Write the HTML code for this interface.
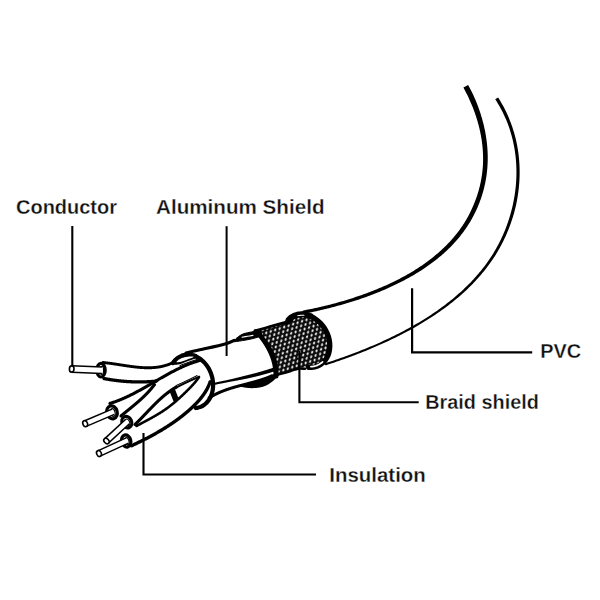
<!DOCTYPE html>
<html><head><meta charset="utf-8"><style>
html,body{margin:0;padding:0;background:#fff;}
svg{display:block;}
</style></head><body>
<svg width="600" height="600" viewBox="0 0 600 600">
<rect width="600" height="600" fill="#fff"/>
<defs><pattern id="braid" patternUnits="userSpaceOnUse" width="4.70" height="8.14" patternTransform="rotate(-18)"><rect width="4.70" height="8.14" fill="#0a0a0a"/><ellipse cx="0" cy="0" rx="0.90" ry="1.55" transform="translate(0.00 0.00) rotate(40)" fill="#f2f2f2"/><ellipse cx="0" cy="0" rx="0.90" ry="1.55" transform="translate(4.70 0.00) rotate(40)" fill="#f2f2f2"/><ellipse cx="0" cy="0" rx="0.90" ry="1.55" transform="translate(0.00 8.14) rotate(40)" fill="#f2f2f2"/><ellipse cx="0" cy="0" rx="0.90" ry="1.55" transform="translate(4.70 8.14) rotate(40)" fill="#f2f2f2"/><ellipse cx="0" cy="0" rx="0.90" ry="1.55" transform="translate(2.35 4.07) rotate(40)" fill="#f2f2f2"/></pattern></defs>
<path d="M 463.41 87.55 L 464.20 89.01 L 464.98 90.46 L 465.74 91.92 L 466.49 93.39 L 467.22 94.87 L 467.94 96.37 L 468.65 97.87 L 469.34 99.38 L 470.02 100.90 L 470.69 102.43 L 471.35 103.97 L 471.99 105.51 L 472.62 107.06 L 473.23 108.62 L 473.83 110.19 L 474.41 111.76 L 474.97 113.35 L 475.52 114.93 L 476.05 116.53 L 476.56 118.13 L 477.05 119.74 L 477.53 121.35 L 477.99 122.97 L 478.43 124.59 L 478.86 126.22 L 479.26 127.85 L 479.65 129.49 L 480.02 131.13 L 480.36 132.77 L 480.69 134.42 L 481.00 136.07 L 481.29 137.72 L 481.56 139.37 L 481.81 141.03 L 482.03 142.69 L 482.23 144.35 L 482.42 146.01 L 482.58 147.67 L 482.71 149.33 L 482.83 150.99 L 482.93 152.66 L 483.00 154.32 L 483.05 155.98 L 483.08 157.64 L 483.09 159.29 L 483.07 160.95 L 483.03 162.60 L 482.97 164.26 L 482.87 165.90 L 482.75 167.55 L 482.61 169.19 L 482.45 170.84 L 482.26 172.47 L 482.05 174.11 L 481.82 175.74 L 481.56 177.36 L 481.29 178.98 L 480.99 180.60 L 480.67 182.21 L 480.32 183.82 L 479.96 185.42 L 479.57 187.01 L 479.16 188.60 L 478.73 190.19 L 478.28 191.76 L 477.81 193.33 L 477.32 194.89 L 476.80 196.45 L 476.27 198.00 L 475.71 199.53 L 475.14 201.07 L 474.54 202.59 L 473.94 204.10 L 473.31 205.61 L 472.66 207.11 L 471.99 208.60 L 471.30 210.08 L 470.59 211.55 L 469.86 213.00 L 469.12 214.45 L 468.35 215.89 L 467.57 217.32 L 466.77 218.73 L 465.95 220.14 L 465.11 221.53 L 464.26 222.91 L 463.38 224.27 L 462.49 225.63 L 461.58 226.98 L 460.66 228.31 L 459.72 229.63 L 458.76 230.93 L 457.78 232.23 L 456.78 233.51 L 455.77 234.77 L 454.74 236.03 L 453.69 237.27 L 452.63 238.50 L 451.55 239.72 L 450.45 240.93 L 449.35 242.13 L 448.22 243.31 L 447.09 244.49 L 445.94 245.65 L 444.77 246.81 L 443.59 247.95 L 442.40 249.08 L 441.20 250.20 L 439.97 251.30 L 438.74 252.40 L 437.49 253.48 L 436.24 254.55 L 434.96 255.62 L 433.68 256.67 L 432.38 257.71 L 431.07 258.73 L 429.75 259.75 L 428.42 260.76 L 427.08 261.75 L 425.72 262.74 L 424.36 263.71 L 422.98 264.68 L 421.60 265.63 L 420.20 266.57 L 418.79 267.51 L 417.38 268.43 L 415.95 269.34 L 414.52 270.24 L 413.08 271.13 L 411.63 272.01 L 410.16 272.88 L 408.69 273.74 L 407.22 274.59 L 405.73 275.42 L 404.24 276.25 L 402.74 277.07 L 401.23 277.87 L 399.71 278.67 L 398.19 279.45 L 396.66 280.23 L 395.13 280.99 L 393.58 281.75 L 392.04 282.49 L 390.48 283.23 L 388.93 283.95 L 387.36 284.67 L 385.80 285.38 L 384.23 286.08 L 382.65 286.76 L 381.07 287.44 L 379.49 288.11 L 377.90 288.77 L 376.31 289.43 L 374.71 290.07 L 373.12 290.70 L 371.52 291.33 L 369.92 291.95 L 368.31 292.55 L 366.71 293.15 L 365.10 293.74 L 363.49 294.32 L 361.88 294.90 L 360.27 295.46 L 358.66 296.02 L 357.04 296.56 L 355.43 297.10 L 353.82 297.64 L 352.21 298.16 L 350.59 298.67 L 348.98 299.18 L 347.37 299.68 L 345.76 300.17 L 344.15 300.65 L 342.55 301.13 L 340.94 301.59 L 339.34 302.05 L 337.74 302.50 L 336.14 302.94 L 334.54 303.38 L 332.95 303.80 L 331.36 304.22 L 329.77 304.63 L 328.19 305.03 L 326.61 305.43 L 325.03 305.82 L 323.46 306.20 L 321.89 306.57 L 320.33 306.94 L 318.78 307.30 L 317.22 307.64 L 315.68 307.98 L 314.13 308.31 L 312.60 308.63 L 311.07 308.95 L 309.55 309.26 L 308.03 309.57 L 306.52 309.86 L 305.02 310.16 L 303.52 310.44 L 304.18 313.78 L 305.68 313.47 L 307.19 313.16 L 308.70 312.84 L 310.22 312.52 L 311.75 312.18 L 313.29 311.85 L 314.83 311.50 L 316.38 311.15 L 317.93 310.79 L 319.49 310.43 L 321.06 310.06 L 322.63 309.69 L 324.21 309.31 L 325.79 308.93 L 327.38 308.54 L 328.97 308.14 L 330.57 307.73 L 332.16 307.32 L 333.77 306.90 L 335.37 306.47 L 336.98 306.03 L 338.59 305.59 L 340.21 305.14 L 341.83 304.68 L 343.45 304.22 L 345.07 303.75 L 346.69 303.27 L 348.32 302.78 L 349.94 302.29 L 351.57 301.78 L 353.20 301.27 L 354.83 300.75 L 356.46 300.22 L 358.09 299.69 L 359.72 299.14 L 361.35 298.59 L 362.98 298.03 L 364.61 297.45 L 366.23 296.88 L 367.86 296.29 L 369.48 295.69 L 371.11 295.08 L 372.73 294.47 L 374.35 293.84 L 375.96 293.21 L 377.58 292.57 L 379.19 291.91 L 380.80 291.25 L 382.40 290.58 L 384.00 289.90 L 385.60 289.21 L 387.19 288.51 L 388.78 287.81 L 390.37 287.09 L 391.95 286.36 L 393.52 285.62 L 395.09 284.87 L 396.66 284.11 L 398.22 283.35 L 399.77 282.57 L 401.32 281.78 L 402.86 280.98 L 404.40 280.18 L 405.93 279.36 L 407.45 278.54 L 408.97 277.70 L 410.48 276.85 L 411.98 275.99 L 413.47 275.13 L 414.96 274.25 L 416.44 273.36 L 417.91 272.47 L 419.37 271.56 L 420.82 270.63 L 422.27 269.70 L 423.70 268.76 L 425.12 267.80 L 426.54 266.84 L 427.94 265.86 L 429.34 264.87 L 430.72 263.87 L 432.09 262.86 L 433.46 261.83 L 434.81 260.80 L 436.14 259.75 L 437.47 258.69 L 438.79 257.62 L 440.09 256.53 L 441.38 255.44 L 442.66 254.33 L 443.92 253.21 L 445.18 252.08 L 446.42 250.93 L 447.64 249.77 L 448.85 248.60 L 450.05 247.42 L 451.23 246.22 L 452.40 245.01 L 453.55 243.79 L 454.69 242.55 L 455.81 241.30 L 456.91 240.04 L 458.00 238.76 L 459.07 237.47 L 460.13 236.17 L 461.17 234.85 L 462.19 233.52 L 463.20 232.18 L 464.19 230.83 L 465.17 229.46 L 466.13 228.08 L 467.07 226.69 L 467.98 225.28 L 468.88 223.86 L 469.77 222.42 L 470.63 220.97 L 471.47 219.51 L 472.30 218.04 L 473.10 216.56 L 473.88 215.06 L 474.65 213.55 L 475.39 212.04 L 476.12 210.51 L 476.82 208.97 L 477.51 207.42 L 478.17 205.86 L 478.82 204.29 L 479.43 202.71 L 480.03 201.12 L 480.61 199.53 L 481.16 197.92 L 481.69 196.31 L 482.20 194.69 L 482.69 193.06 L 483.16 191.42 L 483.61 189.78 L 484.03 188.13 L 484.43 186.47 L 484.81 184.81 L 485.17 183.14 L 485.50 181.47 L 485.82 179.79 L 486.10 178.11 L 486.37 176.42 L 486.61 174.72 L 486.83 173.03 L 487.02 171.33 L 487.19 169.62 L 487.34 167.91 L 487.46 166.20 L 487.56 164.49 L 487.64 162.77 L 487.70 161.05 L 487.73 159.33 L 487.74 157.61 L 487.73 155.89 L 487.69 154.16 L 487.63 152.44 L 487.54 150.71 L 487.43 148.99 L 487.30 147.27 L 487.15 145.54 L 486.98 143.82 L 486.78 142.10 L 486.56 140.38 L 486.33 138.66 L 486.07 136.95 L 485.80 135.23 L 485.50 133.52 L 485.19 131.82 L 484.85 130.11 L 484.50 128.41 L 484.12 126.71 L 483.73 125.02 L 483.31 123.33 L 482.88 121.65 L 482.43 119.97 L 481.96 118.30 L 481.47 116.63 L 480.96 114.97 L 480.44 113.31 L 479.90 111.66 L 479.34 110.02 L 478.76 108.38 L 478.17 106.76 L 477.56 105.13 L 476.93 103.52 L 476.29 101.92 L 475.63 100.32 L 474.96 98.74 L 474.26 97.16 L 473.55 95.60 L 472.82 94.05 L 472.07 92.50 L 471.31 90.97 L 470.54 89.45 L 469.75 87.94 L 468.95 86.44 L 468.14 84.96 Z" fill="#000"/><circle cx="303.85" cy="312.11" r="1.70" fill="#000"/>
<path d="M 495.21 99.21 L 496.26 100.85 L 497.28 102.49 L 498.27 104.14 L 499.23 105.80 L 500.17 107.46 L 501.08 109.14 L 501.96 110.83 L 502.81 112.52 L 503.64 114.22 L 504.44 115.93 L 505.21 117.65 L 505.96 119.37 L 506.68 121.11 L 507.38 122.85 L 508.04 124.59 L 508.68 126.35 L 509.29 128.11 L 509.87 129.87 L 510.43 131.64 L 510.96 133.42 L 511.47 135.20 L 511.95 136.99 L 512.41 138.78 L 512.84 140.58 L 513.25 142.38 L 513.63 144.18 L 513.99 145.99 L 514.32 147.80 L 514.63 149.61 L 514.91 151.43 L 515.17 153.24 L 515.40 155.06 L 515.61 156.89 L 515.80 158.71 L 515.96 160.54 L 516.10 162.37 L 516.21 164.20 L 516.30 166.03 L 516.37 167.86 L 516.41 169.69 L 516.43 171.52 L 516.43 173.35 L 516.41 175.18 L 516.36 177.01 L 516.29 178.84 L 516.19 180.66 L 516.07 182.49 L 515.94 184.31 L 515.77 186.14 L 515.59 187.96 L 515.38 189.77 L 515.15 191.59 L 514.90 193.40 L 514.63 195.21 L 514.34 197.02 L 514.02 198.82 L 513.69 200.62 L 513.33 202.41 L 512.95 204.20 L 512.56 205.99 L 512.14 207.77 L 511.71 209.55 L 511.25 211.32 L 510.77 213.09 L 510.28 214.85 L 509.76 216.60 L 509.22 218.35 L 508.66 220.09 L 508.08 221.82 L 507.48 223.55 L 506.86 225.27 L 506.22 226.98 L 505.56 228.69 L 504.88 230.39 L 504.19 232.07 L 503.47 233.75 L 502.73 235.43 L 501.97 237.09 L 501.20 238.74 L 500.40 240.38 L 499.59 242.01 L 498.76 243.64 L 497.91 245.25 L 497.04 246.85 L 496.15 248.45 L 495.25 250.03 L 494.32 251.59 L 493.38 253.15 L 492.42 254.70 L 491.44 256.23 L 490.45 257.75 L 489.44 259.26 L 488.41 260.76 L 487.36 262.25 L 486.30 263.73 L 485.22 265.19 L 484.12 266.64 L 483.01 268.08 L 481.88 269.51 L 480.73 270.93 L 479.57 272.34 L 478.40 273.74 L 477.21 275.12 L 476.00 276.50 L 474.78 277.86 L 473.55 279.21 L 472.30 280.55 L 471.04 281.88 L 469.76 283.20 L 468.47 284.51 L 467.17 285.81 L 465.85 287.09 L 464.52 288.37 L 463.18 289.64 L 461.83 290.89 L 460.46 292.14 L 459.08 293.37 L 457.69 294.59 L 456.29 295.81 L 454.87 297.01 L 453.45 298.20 L 452.01 299.38 L 450.56 300.55 L 449.11 301.72 L 447.64 302.87 L 446.16 304.01 L 444.67 305.14 L 443.18 306.26 L 441.67 307.37 L 440.15 308.48 L 438.63 309.57 L 437.10 310.65 L 435.55 311.72 L 434.00 312.79 L 432.44 313.84 L 430.88 314.88 L 429.30 315.92 L 427.72 316.94 L 426.13 317.96 L 424.53 318.96 L 422.93 319.96 L 421.32 320.94 L 419.70 321.91 L 418.07 322.88 L 416.44 323.83 L 414.81 324.78 L 413.16 325.71 L 411.51 326.64 L 409.86 327.56 L 408.20 328.47 L 406.54 329.37 L 404.88 330.26 L 403.21 331.14 L 401.53 332.02 L 399.85 332.88 L 398.17 333.74 L 396.49 334.59 L 394.80 335.44 L 393.11 336.27 L 391.42 337.10 L 389.72 337.92 L 388.03 338.73 L 386.33 339.53 L 384.63 340.32 L 382.93 341.10 L 381.22 341.88 L 379.52 342.65 L 377.81 343.41 L 376.10 344.16 L 374.39 344.90 L 372.69 345.63 L 370.98 346.36 L 369.27 347.07 L 367.56 347.78 L 365.85 348.48 L 364.14 349.18 L 362.44 349.87 L 360.73 350.54 L 359.03 351.22 L 357.33 351.88 L 355.63 352.54 L 353.93 353.19 L 352.24 353.83 L 350.55 354.46 L 348.86 355.09 L 347.17 355.71 L 345.49 356.32 L 343.81 356.93 L 342.13 357.53 L 340.46 358.12 L 338.79 358.71 L 337.13 359.29 L 335.47 359.86 L 333.81 360.42 L 332.16 360.98 L 330.52 361.53 L 328.88 362.08 L 327.25 362.62 L 325.62 363.15 L 326.27 365.15 L 327.90 364.61 L 329.54 364.07 L 331.18 363.52 L 332.83 362.97 L 334.49 362.41 L 336.15 361.84 L 337.81 361.27 L 339.48 360.69 L 341.16 360.10 L 342.84 359.51 L 344.52 358.91 L 346.20 358.30 L 347.89 357.68 L 349.58 357.06 L 351.28 356.43 L 352.98 355.79 L 354.68 355.15 L 356.38 354.50 L 358.09 353.84 L 359.80 353.17 L 361.51 352.50 L 363.22 351.81 L 364.93 351.13 L 366.65 350.43 L 368.36 349.72 L 370.08 349.01 L 371.79 348.29 L 373.51 347.56 L 375.23 346.83 L 376.94 346.08 L 378.66 345.33 L 380.37 344.57 L 382.09 343.81 L 383.81 343.04 L 385.52 342.25 L 387.23 341.46 L 388.94 340.67 L 390.65 339.86 L 392.36 339.05 L 394.06 338.22 L 395.77 337.39 L 397.47 336.55 L 399.16 335.70 L 400.86 334.84 L 402.54 333.97 L 404.23 333.09 L 405.91 332.20 L 407.59 331.31 L 409.26 330.40 L 410.93 329.49 L 412.59 328.56 L 414.25 327.63 L 415.90 326.69 L 417.55 325.74 L 419.19 324.77 L 420.83 323.80 L 422.46 322.82 L 424.08 321.84 L 425.70 320.84 L 427.31 319.84 L 428.92 318.82 L 430.52 317.80 L 432.12 316.77 L 433.70 315.73 L 435.28 314.67 L 436.85 313.61 L 438.41 312.54 L 439.96 311.46 L 441.51 310.37 L 443.04 309.26 L 444.57 308.15 L 446.09 307.03 L 447.60 305.89 L 449.10 304.75 L 450.59 303.60 L 452.06 302.43 L 453.53 301.26 L 454.99 300.07 L 456.44 298.87 L 457.87 297.67 L 459.30 296.45 L 460.71 295.22 L 462.11 293.98 L 463.50 292.73 L 464.88 291.47 L 466.25 290.19 L 467.60 288.91 L 468.94 287.61 L 470.27 286.31 L 471.58 284.99 L 472.89 283.66 L 474.17 282.32 L 475.45 280.97 L 476.71 279.61 L 477.95 278.23 L 479.18 276.85 L 480.40 275.45 L 481.60 274.04 L 482.79 272.62 L 483.96 271.19 L 485.12 269.74 L 486.26 268.28 L 487.38 266.82 L 488.49 265.33 L 489.58 263.84 L 490.65 262.34 L 491.71 260.82 L 492.75 259.29 L 493.77 257.75 L 494.78 256.19 L 495.77 254.63 L 496.74 253.05 L 497.69 251.46 L 498.62 249.85 L 499.54 248.24 L 500.44 246.62 L 501.31 244.98 L 502.17 243.33 L 503.01 241.67 L 503.83 240.01 L 504.63 238.33 L 505.41 236.64 L 506.18 234.94 L 506.92 233.24 L 507.64 231.52 L 508.35 229.80 L 509.03 228.06 L 509.70 226.32 L 510.34 224.58 L 510.97 222.82 L 511.57 221.05 L 512.15 219.28 L 512.72 217.51 L 513.26 215.72 L 513.78 213.93 L 514.28 212.13 L 514.76 210.33 L 515.22 208.52 L 515.66 206.70 L 516.07 204.88 L 516.46 203.06 L 516.83 201.23 L 517.17 199.39 L 517.49 197.55 L 517.79 195.71 L 518.07 193.86 L 518.33 192.01 L 518.56 190.15 L 518.77 188.30 L 518.96 186.44 L 519.12 184.58 L 519.27 182.71 L 519.39 180.85 L 519.48 178.98 L 519.56 177.11 L 519.61 175.24 L 519.63 173.37 L 519.63 171.50 L 519.61 169.63 L 519.57 167.76 L 519.50 165.89 L 519.41 164.02 L 519.29 162.15 L 519.15 160.28 L 518.98 158.41 L 518.79 156.54 L 518.58 154.68 L 518.34 152.81 L 518.07 150.95 L 517.78 149.10 L 517.47 147.24 L 517.13 145.39 L 516.77 143.54 L 516.37 141.69 L 515.96 139.85 L 515.52 138.01 L 515.05 136.18 L 514.55 134.35 L 514.04 132.52 L 513.49 130.70 L 512.92 128.89 L 512.32 127.08 L 511.69 125.28 L 511.04 123.48 L 510.36 121.69 L 509.66 119.90 L 508.94 118.12 L 508.18 116.35 L 507.40 114.58 L 506.59 112.82 L 505.76 111.07 L 504.89 109.33 L 504.00 107.60 L 503.08 105.87 L 502.14 104.15 L 501.16 102.44 L 500.16 100.74 L 499.13 99.05 L 498.08 97.38 Z" fill="#000"/><circle cx="325.94" cy="364.15" r="1.05" fill="#000"/>
<path d="M 255.30 330.30 L 270.00 326.70 L 287.30 321.70 L 288.12 321.02 L 290.04 319.11 L 292.19 317.51 L 294.55 316.26 L 297.08 315.36 L 299.74 314.84 L 302.50 314.70 L 305.31 314.94 L 308.14 315.56 L 310.94 316.55 L 313.68 317.90 L 316.30 319.58 L 318.78 321.57 L 321.09 323.85 L 323.17 326.38 L 325.01 329.12 L 326.59 332.03 L 327.86 335.07 L 328.83 338.21 L 329.47 341.38 L 329.77 344.55 L 329.73 347.67 L 329.36 350.69 L 328.65 353.58 L 327.61 356.28 L 326.27 358.77 L 324.64 361.00 L 322.74 362.94 L 320.60 364.56 L 318.26 365.85 L 315.75 366.77 L 298.00 368.00 L 290.00 371.00 L 277.50 375.50 L 275.30 360.00 L 271.30 350.70 L 263.30 340.00 Z" fill="url(#braid)" stroke="none"/>
<path d="M 287.36 321.95 C 287.70 321.57 288.65 320.39 289.37 319.71 C 290.09 319.03 290.86 318.40 291.67 317.85 C 292.48 317.30 293.34 316.81 294.23 316.40 C 295.12 315.99 296.05 315.65 297.01 315.38 C 297.96 315.12 298.94 314.93 299.94 314.82 C 300.94 314.71 301.96 314.67 302.99 314.72 C 304.01 314.76 305.06 314.88 306.09 315.08 C 307.13 315.27 308.18 315.55 309.20 315.89 C 310.23 316.24 311.26 316.66 312.26 317.15 C 313.26 317.64 314.26 318.21 315.21 318.83 C 316.17 319.46 317.11 320.16 318.01 320.91 C 318.91 321.66 319.78 322.47 320.60 323.33 C 321.42 324.19 322.21 325.12 322.94 326.07 C 323.67 327.03 324.36 328.04 324.99 329.08 C 325.62 330.11 326.20 331.19 326.71 332.29 C 327.22 333.39 327.68 334.52 328.07 335.66 C 328.46 336.80 328.79 337.96 329.05 339.12 C 329.31 340.28 329.50 341.46 329.63 342.62 C 329.75 343.78 329.81 344.95 329.79 346.10 C 329.78 347.24 329.70 348.38 329.55 349.48 C 329.40 350.58 329.18 351.67 328.90 352.72 C 328.61 353.76 328.26 354.78 327.85 355.75 C 327.43 356.72 326.95 357.65 326.42 358.53 C 325.88 359.40 325.29 360.23 324.64 361.00 C 323.99 361.76 323.28 362.48 322.53 363.12 C 321.78 363.76 320.98 364.34 320.14 364.85 C 319.31 365.36 318.42 365.80 317.51 366.17 C 316.60 366.53 315.65 366.83 314.68 367.04 C 313.72 367.26 312.71 367.40 311.71 367.46 C 310.70 367.53 309.15 367.43 308.63 367.42" stroke="#000" stroke-width="5.2" fill="none" stroke-linecap="round" stroke-linejoin="round" />
<path d="M 288.58 319.57 C 288.71 319.43 289.13 319.02 289.41 318.77 C 289.70 318.51 289.99 318.26 290.29 318.02 C 290.59 317.79 290.90 317.56 291.21 317.34 C 291.53 317.12 291.85 316.92 292.17 316.72 C 292.50 316.52 292.83 316.34 293.17 316.16 C 293.51 315.99 293.85 315.82 294.20 315.67 C 294.55 315.52 294.91 315.37 295.27 315.24 C 295.63 315.11 295.99 314.99 296.36 314.88 C 296.73 314.78 297.10 314.68 297.48 314.59 C 297.85 314.51 298.23 314.43 298.61 314.37 C 299.00 314.31 299.38 314.26 299.77 314.22 C 300.16 314.18 300.56 314.15 300.95 314.13 C 301.34 314.12 301.74 314.11 302.14 314.12 C 302.54 314.13 302.94 314.15 303.34 314.18 C 303.74 314.21 304.14 314.25 304.54 314.31 C 304.95 314.36 305.35 314.43 305.75 314.50 C 306.16 314.58 306.56 314.67 306.96 314.77 C 307.37 314.87 307.77 314.98 308.17 315.10 C 308.57 315.23 308.98 315.36 309.38 315.51 C 309.77 315.65 310.37 315.90 310.57 315.97" stroke="#000" stroke-width="5.6" fill="none" stroke-linecap="round" stroke-linejoin="round" />
<path d="M 297.73 315.72 C 297.86 315.69 298.23 315.60 298.48 315.56 C 298.73 315.51 298.98 315.46 299.24 315.43 C 299.49 315.39 299.75 315.35 300.00 315.33 C 300.26 315.30 300.52 315.28 300.78 315.26 C 301.04 315.24 301.30 315.23 301.56 315.22 C 301.82 315.22 302.08 315.21 302.34 315.22 C 302.60 315.22 302.87 315.23 303.13 315.24 C 303.40 315.26 303.79 315.29 303.93 315.30" stroke="#fff" stroke-width="1.1" fill="none" stroke-linecap="round" stroke-linejoin="round" />
<path d="M 322.55 361.90 C 322.39 362.04 321.92 362.47 321.59 362.74 C 321.26 363.01 320.91 363.26 320.57 363.50 C 320.22 363.75 319.86 363.98 319.50 364.19 C 319.13 364.41 318.76 364.61 318.38 364.79 C 318.00 364.98 317.61 365.16 317.22 365.32 C 316.83 365.48 316.43 365.62 316.02 365.75 C 315.62 365.88 315.21 366.00 314.79 366.10 C 314.38 366.20 313.95 366.29 313.53 366.36 C 313.10 366.43 312.67 366.49 312.24 366.53 C 311.81 366.58 311.15 366.60 310.93 366.62" stroke="#fff" stroke-width="1.8" fill="none" stroke-linecap="round" stroke-linejoin="round" />
<path d="M 254.10 332.42 L 254.28 332.60 L 254.45 332.79 L 254.63 332.97 L 254.80 333.15 L 254.97 333.33 L 255.14 333.52 L 255.32 333.70 L 255.49 333.89 L 255.66 334.07 L 255.83 334.26 L 255.99 334.45 L 256.16 334.63 L 256.33 334.82 L 256.50 335.01 L 256.66 335.20 L 256.83 335.38 L 256.99 335.57 L 257.16 335.76 L 257.32 335.95 L 257.48 336.14 L 257.64 336.34 L 257.81 336.53 L 257.97 336.72 L 258.13 336.91 L 258.29 337.11 L 258.44 337.30 L 258.60 337.49 L 258.76 337.69 L 258.91 337.88 L 259.07 338.08 L 259.23 338.27 L 259.38 338.47 L 259.53 338.67 L 259.69 338.87 L 259.84 339.06 L 259.99 339.26 L 260.14 339.46 L 260.29 339.66 L 260.44 339.86 L 260.58 340.06 L 260.73 340.26 L 260.88 340.46 L 261.03 340.66 L 261.18 340.86 L 261.32 341.06 L 261.47 341.26 L 261.62 341.46 L 261.76 341.66 L 261.90 341.86 L 262.05 342.07 L 262.19 342.27 L 262.33 342.47 L 262.47 342.67 L 262.61 342.88 L 262.75 343.08 L 262.89 343.29 L 263.03 343.49 L 263.16 343.70 L 263.30 343.91 L 263.43 344.11 L 263.57 344.32 L 263.70 344.53 L 263.83 344.73 L 263.97 344.94 L 264.10 345.15 L 264.23 345.36 L 264.36 345.57 L 264.48 345.78 L 264.61 345.99 L 264.74 346.20 L 264.86 346.41 L 264.99 346.62 L 265.11 346.84 L 265.24 347.05 L 265.36 347.26 L 265.49 347.47 L 265.61 347.68 L 265.73 347.89 L 265.86 348.11 L 265.98 348.32 L 266.10 348.53 L 266.21 348.75 L 266.33 348.96 L 266.45 349.18 L 266.57 349.39 L 266.68 349.61 L 266.80 349.82 L 266.91 350.04 L 267.02 350.26 L 267.13 350.47 L 267.24 350.69 L 267.35 350.91 L 267.46 351.13 L 267.57 351.34 L 267.68 351.56 L 267.78 351.78 L 267.89 352.00 L 267.99 352.22 L 268.10 352.44 L 268.20 352.66 L 268.30 352.88 L 268.40 353.10 L 268.50 353.33 L 268.60 353.55 L 268.70 353.77 L 268.80 353.99 L 268.90 354.21 L 268.99 354.44 L 269.09 354.66 L 269.19 354.88 L 269.28 355.11 L 269.37 355.33 L 269.47 355.55 L 269.56 355.78 L 269.65 356.00 L 269.74 356.23 L 269.83 356.45 L 269.92 356.68 L 270.00 356.90 L 270.09 357.13 L 270.17 357.36 L 270.26 357.59 L 270.34 357.81 L 270.42 358.04 L 270.50 358.27 L 270.58 358.50 L 270.66 358.73 L 270.74 358.96 L 270.82 359.19 L 270.89 359.42 L 270.97 359.65 L 271.04 359.88 L 271.11 360.11 L 271.18 360.34 L 271.26 360.57 L 271.32 360.80 L 271.39 361.04 L 271.46 361.27 L 271.53 361.50 L 271.59 361.73 L 271.66 361.97 L 271.72 362.20 L 271.78 362.44 L 271.84 362.67 L 271.90 362.91 L 271.96 363.14 L 272.02 363.38 L 272.07 363.61 L 272.13 363.85 L 272.18 364.08 L 272.24 364.32 L 272.29 364.56 L 272.34 364.80 L 272.39 365.03 L 272.44 365.27 L 272.49 365.51 L 272.53 365.75 L 272.58 365.99 L 272.62 366.23 L 272.67 366.47 L 272.71 366.71 L 272.75 366.95 L 272.79 367.19 L 272.83 367.43 L 272.87 367.67 L 272.90 367.91 L 272.94 368.15 L 272.97 368.39 L 273.00 368.63 L 273.04 368.88 L 273.07 369.12 L 273.10 369.36 L 273.12 369.60 L 273.15 369.85 L 273.18 370.09 L 273.20 370.34 L 273.23 370.58 L 273.25 370.83 L 273.27 371.07 L 273.29 371.32 L 273.31 371.56 L 273.32 371.81 L 273.34 372.05 L 273.36 372.30 L 273.38 372.54 L 273.40 372.79 L 273.42 373.04 L 273.43 373.29 L 273.45 373.53 L 273.46 373.78 L 273.48 374.03 L 273.49 374.28 L 273.50 374.53 L 273.51 374.78 L 273.51 375.03 L 273.52 375.28 L 273.53 375.53 L 273.53 375.78 L 273.53 376.03 L 278.53 376.11 L 278.54 375.84 L 278.55 375.56 L 278.56 375.28 L 278.57 375.01 L 278.57 374.73 L 278.57 374.46 L 278.58 374.18 L 278.58 373.91 L 278.58 373.64 L 278.57 373.36 L 278.57 373.09 L 278.56 372.81 L 278.56 372.54 L 278.55 372.27 L 278.54 372.00 L 278.53 371.72 L 278.51 371.45 L 278.49 371.18 L 278.47 370.91 L 278.45 370.64 L 278.43 370.37 L 278.40 370.10 L 278.38 369.83 L 278.35 369.56 L 278.32 369.29 L 278.29 369.02 L 278.26 368.75 L 278.23 368.48 L 278.19 368.21 L 278.16 367.95 L 278.12 367.68 L 278.08 367.41 L 278.05 367.15 L 278.01 366.88 L 277.96 366.61 L 277.92 366.35 L 277.88 366.08 L 277.83 365.82 L 277.79 365.55 L 277.74 365.29 L 277.69 365.03 L 277.64 364.76 L 277.59 364.50 L 277.54 364.24 L 277.48 363.98 L 277.43 363.71 L 277.37 363.45 L 277.31 363.19 L 277.25 362.93 L 277.20 362.67 L 277.13 362.41 L 277.07 362.15 L 277.01 361.89 L 276.94 361.63 L 276.88 361.38 L 276.81 361.12 L 276.74 360.86 L 276.67 360.60 L 276.60 360.35 L 276.53 360.09 L 276.46 359.83 L 276.38 359.58 L 276.31 359.32 L 276.23 359.07 L 276.16 358.81 L 276.08 358.56 L 276.00 358.31 L 275.92 358.05 L 275.84 357.80 L 275.75 357.55 L 275.67 357.30 L 275.58 357.05 L 275.50 356.80 L 275.41 356.54 L 275.32 356.29 L 275.23 356.05 L 275.14 355.80 L 275.05 355.55 L 274.96 355.30 L 274.86 355.05 L 274.77 354.80 L 274.67 354.56 L 274.57 354.31 L 274.48 354.06 L 274.38 353.82 L 274.28 353.57 L 274.17 353.33 L 274.07 353.08 L 273.97 352.84 L 273.86 352.60 L 273.76 352.35 L 273.65 352.11 L 273.54 351.87 L 273.44 351.63 L 273.32 351.39 L 273.21 351.15 L 273.10 350.91 L 272.98 350.67 L 272.86 350.43 L 272.75 350.20 L 272.63 349.96 L 272.51 349.72 L 272.39 349.49 L 272.27 349.25 L 272.15 349.02 L 272.02 348.78 L 271.90 348.55 L 271.77 348.32 L 271.65 348.09 L 271.52 347.85 L 271.39 347.62 L 271.26 347.39 L 271.13 347.16 L 271.00 346.93 L 270.87 346.70 L 270.74 346.47 L 270.61 346.24 L 270.47 346.01 L 270.34 345.79 L 270.20 345.56 L 270.06 345.33 L 269.93 345.11 L 269.79 344.88 L 269.65 344.66 L 269.51 344.43 L 269.37 344.21 L 269.22 343.99 L 269.08 343.77 L 268.93 343.55 L 268.78 343.33 L 268.63 343.11 L 268.49 342.89 L 268.34 342.67 L 268.18 342.45 L 268.03 342.24 L 267.88 342.02 L 267.73 341.80 L 267.57 341.59 L 267.42 341.37 L 267.26 341.16 L 267.11 340.94 L 266.95 340.73 L 266.79 340.52 L 266.63 340.31 L 266.47 340.10 L 266.31 339.89 L 266.15 339.67 L 265.99 339.47 L 265.83 339.26 L 265.67 339.05 L 265.50 338.84 L 265.34 338.63 L 265.17 338.43 L 265.01 338.22 L 264.84 338.01 L 264.67 337.81 L 264.50 337.60 L 264.33 337.40 L 264.16 337.20 L 263.99 337.00 L 263.81 336.80 L 263.64 336.60 L 263.46 336.40 L 263.29 336.20 L 263.11 336.01 L 262.93 335.81 L 262.76 335.61 L 262.58 335.42 L 262.40 335.22 L 262.22 335.03 L 262.04 334.84 L 261.86 334.64 L 261.67 334.45 L 261.49 334.26 L 261.31 334.07 L 261.12 333.88 L 260.94 333.69 L 260.75 333.50 L 260.57 333.31 L 260.38 333.12 L 260.19 332.94 L 260.01 332.75 L 259.82 332.56 L 259.63 332.38 L 259.44 332.19 L 259.25 332.01 L 259.06 331.82 L 258.87 331.64 L 258.68 331.46 L 258.48 331.28 L 258.29 331.10 L 258.10 330.92 L 257.90 330.74 L 257.71 330.56 L 257.51 330.38 L 257.32 330.20 L 257.12 330.03 L 256.92 329.85 L 256.73 329.68 Z" fill="#000"/><circle cx="255.41" cy="331.05" r="1.90" fill="#000"/><circle cx="276.03" cy="376.07" r="2.50" fill="#000"/>
<path d="M 255.00 330.80 C 257.50 330.12 264.62 328.20 270.00 326.70 C 275.38 325.20 283.80 322.83 287.30 321.80 C 290.80 320.77 290.38 320.72 291.00 320.50" stroke="#000" stroke-width="2.8" fill="none" stroke-linecap="round" stroke-linejoin="round" />
<path d="M 276.50 375.00 C 278.75 374.37 286.42 372.27 290.00 371.20 C 293.58 370.13 295.50 369.00 298.00 368.60 C 300.50 368.20 303.83 368.77 305.00 368.80" stroke="#000" stroke-width="2.6" fill="none" stroke-linecap="round" stroke-linejoin="round" />
<path d="M 186.00 352.90 C 188.75 352.30 196.00 350.78 202.50 349.30 C 209.00 347.82 219.75 345.48 225.00 344.00 C 230.25 342.52 232.50 341.00 234.00 340.40" stroke="#000" stroke-width="3.0" fill="none" stroke-linecap="round" stroke-linejoin="round" />
<path d="M 233.5 341.2 C 237 337.5, 240 335, 244 333.6 C 249 332.2, 254 331.5, 260 330.6 L 262.5 335.6 C 257 337.6, 251 339.2, 246 340 C 241 340.8, 237 341.6, 233.5 341.8 Z" fill="#000" stroke="#000" stroke-width="1"/>
<path d="M 242.00 337.20 C 242.92 337.05 245.67 336.60 247.50 336.30 C 249.33 336.00 252.08 335.55 253.00 335.40" stroke="#fff" stroke-width="1.1" fill="none" stroke-linecap="round" stroke-linejoin="round" />
<path d="M 213.71 385.03 L 214.02 384.96 L 214.33 384.90 L 214.63 384.84 L 214.94 384.78 L 215.24 384.72 L 215.55 384.66 L 215.86 384.60 L 216.16 384.53 L 216.47 384.47 L 216.78 384.41 L 217.08 384.35 L 217.39 384.29 L 217.70 384.23 L 218.00 384.17 L 218.31 384.11 L 218.62 384.05 L 218.92 383.98 L 219.23 383.92 L 219.54 383.86 L 219.84 383.80 L 220.15 383.74 L 220.46 383.68 L 220.76 383.62 L 221.07 383.56 L 221.38 383.50 L 221.68 383.44 L 221.99 383.38 L 222.30 383.32 L 222.60 383.26 L 222.91 383.19 L 223.22 383.13 L 223.52 383.07 L 223.83 383.01 L 224.14 382.95 L 224.44 382.89 L 224.75 382.83 L 225.06 382.77 L 225.37 382.71 L 225.67 382.65 L 225.98 382.59 L 226.29 382.53 L 226.59 382.46 L 226.90 382.40 L 227.21 382.34 L 227.51 382.28 L 227.82 382.22 L 228.13 382.16 L 228.44 382.10 L 228.74 382.04 L 229.05 381.98 L 229.36 381.91 L 229.66 381.85 L 229.97 381.79 L 230.28 381.73 L 230.59 381.68 L 230.90 381.62 L 231.20 381.57 L 231.51 381.51 L 231.82 381.46 L 232.13 381.40 L 232.44 381.35 L 232.75 381.29 L 233.05 381.24 L 233.36 381.18 L 233.67 381.13 L 233.98 381.07 L 234.29 381.02 L 234.60 380.96 L 234.91 380.91 L 235.21 380.85 L 235.52 380.79 L 235.83 380.74 L 236.14 380.68 L 236.45 380.63 L 236.76 380.57 L 237.07 380.51 L 237.37 380.46 L 237.68 380.40 L 237.99 380.34 L 238.30 380.29 L 238.61 380.23 L 238.92 380.17 L 239.22 380.11 L 239.53 380.06 L 239.84 380.00 L 240.15 379.94 L 240.46 379.88 L 240.77 379.83 L 241.07 379.77 L 241.38 379.71 L 241.69 379.65 L 242.00 379.59 L 242.31 379.53 L 242.61 379.47 L 242.92 379.41 L 243.23 379.36 L 243.54 379.30 L 243.85 379.24 L 244.16 379.18 L 244.46 379.12 L 244.77 379.06 L 245.08 379.00 L 245.39 378.93 L 245.69 378.87 L 246.00 378.80 L 246.31 378.74 L 246.61 378.67 L 246.92 378.60 L 247.23 378.53 L 247.53 378.47 L 247.84 378.40 L 248.15 378.33 L 248.45 378.26 L 248.76 378.20 L 249.07 378.13 L 249.37 378.06 L 249.68 377.99 L 249.99 377.92 L 250.29 377.85 L 250.60 377.78 L 250.90 377.71 L 251.21 377.64 L 251.52 377.57 L 251.82 377.50 L 252.13 377.43 L 252.43 377.36 L 252.74 377.29 L 253.05 377.22 L 253.35 377.14 L 253.66 377.07 L 253.96 377.00 L 254.27 376.93 L 254.58 376.85 L 254.88 376.78 L 255.19 376.71 L 255.49 376.64 L 255.80 376.56 L 256.10 376.49 L 256.41 376.41 L 256.71 376.34 L 257.02 376.26 L 257.32 376.19 L 257.63 376.11 L 257.93 376.04 L 258.24 375.96 L 258.54 375.88 L 258.85 375.81 L 259.15 375.73 L 259.46 375.65 L 259.76 375.58 L 260.07 375.50 L 260.37 375.42 L 260.68 375.34 L 260.98 375.26 L 261.29 375.18 L 261.59 375.10 L 261.90 375.02 L 262.20 374.94 L 262.50 374.86 L 262.81 374.78 L 263.11 374.70 L 263.41 374.61 L 263.72 374.53 L 264.02 374.45 L 264.33 374.36 L 264.63 374.28 L 264.93 374.20 L 265.24 374.11 L 265.54 374.03 L 265.84 373.94 L 266.14 373.86 L 266.45 373.77 L 266.75 373.68 L 267.05 373.60 L 267.36 373.51 L 267.66 373.42 L 267.96 373.33 L 268.26 373.25 L 268.57 373.16 L 268.87 373.07 L 269.17 372.98 L 269.47 372.89 L 269.77 372.80 L 270.08 372.71 L 270.38 372.62 L 270.68 372.52 L 270.98 372.43 L 271.28 372.34 L 271.59 372.25 L 271.89 372.16 L 272.19 372.06 L 272.49 371.97 L 272.79 371.87 L 273.09 371.78 L 273.39 371.68 L 273.69 371.59 L 274.00 371.49 L 274.30 371.40 L 274.60 371.30 L 273.40 367.69 L 273.11 367.79 L 272.81 367.89 L 272.52 367.99 L 272.22 368.09 L 271.93 368.19 L 271.64 368.28 L 271.34 368.38 L 271.05 368.48 L 270.75 368.58 L 270.45 368.67 L 270.16 368.77 L 269.86 368.86 L 269.57 368.96 L 269.27 369.05 L 268.98 369.15 L 268.68 369.24 L 268.38 369.33 L 268.09 369.43 L 267.79 369.52 L 267.49 369.61 L 267.20 369.70 L 266.90 369.80 L 266.60 369.89 L 266.31 369.98 L 266.01 370.07 L 265.71 370.16 L 265.42 370.25 L 265.12 370.34 L 264.82 370.43 L 264.52 370.52 L 264.22 370.61 L 263.93 370.69 L 263.63 370.78 L 263.33 370.87 L 263.03 370.96 L 262.73 371.04 L 262.44 371.13 L 262.14 371.22 L 261.84 371.30 L 261.54 371.39 L 261.24 371.47 L 260.94 371.56 L 260.64 371.64 L 260.34 371.73 L 260.04 371.82 L 259.75 371.90 L 259.45 371.99 L 259.15 372.07 L 258.85 372.15 L 258.55 372.24 L 258.25 372.32 L 257.95 372.40 L 257.65 372.49 L 257.35 372.57 L 257.05 372.65 L 256.75 372.73 L 256.45 372.82 L 256.15 372.90 L 255.85 372.98 L 255.55 373.06 L 255.25 373.14 L 254.95 373.22 L 254.65 373.30 L 254.35 373.38 L 254.04 373.46 L 253.74 373.54 L 253.44 373.62 L 253.14 373.70 L 252.84 373.78 L 252.54 373.85 L 252.24 373.93 L 251.94 374.01 L 251.63 374.09 L 251.33 374.16 L 251.03 374.24 L 250.73 374.32 L 250.43 374.40 L 250.13 374.47 L 249.82 374.55 L 249.52 374.62 L 249.22 374.70 L 248.92 374.78 L 248.61 374.85 L 248.31 374.93 L 248.01 375.00 L 247.71 375.08 L 247.40 375.15 L 247.10 375.23 L 246.80 375.30 L 246.50 375.37 L 246.19 375.45 L 245.89 375.52 L 245.59 375.59 L 245.28 375.67 L 244.98 375.74 L 244.68 375.81 L 244.38 375.89 L 244.07 375.97 L 243.77 376.05 L 243.47 376.12 L 243.17 376.20 L 242.86 376.28 L 242.56 376.36 L 242.26 376.43 L 241.96 376.51 L 241.65 376.59 L 241.35 376.66 L 241.05 376.74 L 240.75 376.81 L 240.44 376.89 L 240.14 376.97 L 239.84 377.04 L 239.53 377.12 L 239.23 377.19 L 238.93 377.27 L 238.62 377.34 L 238.32 377.42 L 238.02 377.49 L 237.71 377.57 L 237.41 377.64 L 237.11 377.72 L 236.80 377.79 L 236.50 377.87 L 236.20 377.94 L 235.89 378.01 L 235.59 378.09 L 235.29 378.16 L 234.98 378.24 L 234.68 378.31 L 234.37 378.38 L 234.07 378.46 L 233.77 378.53 L 233.46 378.60 L 233.16 378.68 L 232.85 378.75 L 232.55 378.82 L 232.25 378.90 L 231.94 378.97 L 231.64 379.04 L 231.33 379.11 L 231.03 379.19 L 230.72 379.26 L 230.42 379.33 L 230.12 379.40 L 229.81 379.48 L 229.51 379.54 L 229.20 379.61 L 228.89 379.67 L 228.59 379.74 L 228.28 379.80 L 227.98 379.87 L 227.67 379.93 L 227.37 380.00 L 227.06 380.06 L 226.75 380.13 L 226.45 380.19 L 226.14 380.25 L 225.83 380.32 L 225.53 380.38 L 225.22 380.45 L 224.92 380.51 L 224.61 380.58 L 224.30 380.64 L 224.00 380.71 L 223.69 380.77 L 223.39 380.83 L 223.08 380.90 L 222.77 380.96 L 222.47 381.03 L 222.16 381.09 L 221.86 381.16 L 221.55 381.22 L 221.24 381.29 L 220.94 381.35 L 220.63 381.41 L 220.33 381.48 L 220.02 381.54 L 219.71 381.61 L 219.41 381.67 L 219.10 381.74 L 218.79 381.80 L 218.49 381.87 L 218.18 381.93 L 217.88 381.99 L 217.57 382.06 L 217.26 382.12 L 216.96 382.19 L 216.65 382.25 L 216.35 382.32 L 216.04 382.38 L 215.73 382.45 L 215.43 382.51 L 215.12 382.58 L 214.82 382.64 L 214.51 382.71 L 214.20 382.77 L 213.90 382.84 L 213.59 382.90 L 213.29 382.97 Z" fill="#000"/><circle cx="213.50" cy="384.00" r="1.05" fill="#000"/><circle cx="274.00" cy="369.50" r="1.90" fill="#000"/>
<path d="M 209.83 399.32 L 210.12 399.14 L 210.40 398.95 L 210.69 398.77 L 210.97 398.60 L 211.25 398.42 L 211.54 398.24 L 211.83 398.07 L 212.11 397.90 L 212.40 397.73 L 212.69 397.56 L 212.98 397.39 L 213.26 397.23 L 213.55 397.07 L 213.84 396.90 L 214.14 396.74 L 214.43 396.58 L 214.72 396.43 L 215.01 396.27 L 215.30 396.12 L 215.60 395.96 L 215.89 395.81 L 216.19 395.66 L 216.48 395.51 L 216.78 395.36 L 217.08 395.22 L 217.37 395.07 L 217.67 394.93 L 217.97 394.79 L 218.27 394.64 L 218.57 394.51 L 218.87 394.37 L 219.17 394.23 L 219.47 394.09 L 219.77 393.96 L 220.07 393.83 L 220.37 393.69 L 220.67 393.56 L 220.98 393.43 L 221.28 393.30 L 221.59 393.18 L 221.89 393.05 L 222.20 392.92 L 222.50 392.80 L 222.81 392.68 L 223.11 392.56 L 223.42 392.43 L 223.73 392.31 L 224.04 392.20 L 224.35 392.08 L 224.65 391.96 L 224.96 391.84 L 225.27 391.73 L 225.58 391.62 L 225.89 391.50 L 226.21 391.39 L 226.52 391.28 L 226.83 391.17 L 227.14 391.06 L 227.45 390.95 L 227.77 390.84 L 228.08 390.74 L 228.39 390.63 L 228.71 390.53 L 229.02 390.42 L 229.34 390.32 L 229.65 390.21 L 229.97 390.11 L 230.28 390.01 L 230.60 389.91 L 230.92 389.81 L 231.23 389.71 L 231.55 389.61 L 231.87 389.51 L 232.18 389.42 L 232.50 389.32 L 232.82 389.22 L 233.14 389.13 L 233.46 389.03 L 233.78 388.94 L 234.10 388.84 L 234.42 388.75 L 234.74 388.66 L 235.06 388.57 L 235.38 388.47 L 235.70 388.38 L 236.02 388.29 L 236.34 388.20 L 236.66 388.11 L 236.99 388.02 L 237.31 387.93 L 237.63 387.84 L 237.95 387.76 L 238.28 387.67 L 238.60 387.58 L 238.92 387.49 L 239.25 387.40 L 239.57 387.32 L 239.89 387.23 L 240.22 387.14 L 240.54 387.06 L 240.87 386.97 L 241.19 386.89 L 241.51 386.80 L 241.84 386.72 L 242.16 386.63 L 242.49 386.55 L 242.81 386.46 L 243.14 386.38 L 243.47 386.29 L 243.79 386.21 L 244.12 386.12 L 244.44 386.04 L 244.77 385.95 L 245.09 385.87 L 245.42 385.79 L 245.75 385.70 L 246.07 385.62 L 246.40 385.53 L 246.73 385.45 L 247.05 385.36 L 247.38 385.28 L 247.71 385.20 L 248.03 385.11 L 248.36 385.03 L 248.69 384.94 L 249.01 384.86 L 249.34 384.77 L 249.67 384.69 L 249.99 384.60 L 250.32 384.51 L 250.65 384.43 L 250.97 384.34 L 251.30 384.25 L 251.63 384.17 L 251.96 384.08 L 252.28 383.99 L 252.61 383.90 L 252.94 383.82 L 253.26 383.73 L 253.59 383.64 L 253.92 383.55 L 254.24 383.46 L 254.57 383.37 L 254.90 383.28 L 255.22 383.19 L 255.55 383.10 L 255.88 383.00 L 256.20 382.91 L 256.53 382.82 L 256.85 382.73 L 257.18 382.63 L 257.51 382.54 L 257.83 382.44 L 258.16 382.35 L 258.48 382.25 L 258.81 382.15 L 259.13 382.05 L 259.46 381.96 L 259.78 381.86 L 260.11 381.76 L 260.43 381.66 L 260.76 381.56 L 261.08 381.45 L 261.41 381.35 L 261.73 381.25 L 262.05 381.14 L 262.38 381.04 L 262.70 380.93 L 263.03 380.82 L 263.35 380.72 L 263.67 380.61 L 263.99 380.50 L 264.32 380.39 L 264.64 380.28 L 264.96 380.17 L 265.28 380.05 L 265.60 379.94 L 265.93 379.82 L 266.25 379.71 L 266.57 379.59 L 266.89 379.47 L 267.21 379.35 L 267.53 379.23 L 267.85 379.11 L 268.17 378.99 L 268.49 378.87 L 268.80 378.74 L 269.12 378.62 L 269.44 378.49 L 269.76 378.36 L 270.08 378.23 L 270.39 378.10 L 270.71 377.97 L 271.03 377.84 L 271.34 377.70 L 271.66 377.57 L 271.97 377.43 L 272.29 377.29 L 272.60 377.16 L 271.39 374.41 L 271.08 374.55 L 270.78 374.68 L 270.47 374.81 L 270.17 374.94 L 269.86 375.07 L 269.55 375.20 L 269.25 375.33 L 268.94 375.46 L 268.63 375.58 L 268.33 375.71 L 268.02 375.83 L 267.71 375.95 L 267.40 376.07 L 267.09 376.19 L 266.78 376.31 L 266.47 376.43 L 266.16 376.54 L 265.85 376.66 L 265.53 376.77 L 265.22 376.89 L 264.91 377.00 L 264.60 377.11 L 264.28 377.22 L 263.97 377.33 L 263.66 377.44 L 263.34 377.55 L 263.03 377.66 L 262.71 377.77 L 262.40 377.87 L 262.08 377.98 L 261.77 378.08 L 261.45 378.19 L 261.13 378.29 L 260.81 378.39 L 260.50 378.49 L 260.18 378.59 L 259.86 378.69 L 259.54 378.79 L 259.23 378.89 L 258.91 378.99 L 258.59 379.09 L 258.27 379.18 L 257.95 379.28 L 257.63 379.37 L 257.31 379.47 L 256.99 379.56 L 256.67 379.66 L 256.35 379.75 L 256.02 379.84 L 255.70 379.93 L 255.38 380.03 L 255.06 380.12 L 254.74 380.21 L 254.41 380.30 L 254.09 380.39 L 253.77 380.48 L 253.45 380.57 L 253.12 380.66 L 252.80 380.74 L 252.48 380.83 L 252.15 380.92 L 251.83 381.01 L 251.50 381.10 L 251.18 381.18 L 250.86 381.27 L 250.53 381.35 L 250.21 381.44 L 249.88 381.53 L 249.56 381.61 L 249.23 381.70 L 248.91 381.78 L 248.58 381.87 L 248.26 381.95 L 247.93 382.04 L 247.60 382.12 L 247.28 382.21 L 246.95 382.29 L 246.63 382.38 L 246.30 382.46 L 245.98 382.54 L 245.65 382.63 L 245.32 382.71 L 245.00 382.80 L 244.67 382.88 L 244.34 382.97 L 244.02 383.05 L 243.69 383.13 L 243.36 383.22 L 243.04 383.30 L 242.71 383.39 L 242.38 383.47 L 242.06 383.56 L 241.73 383.64 L 241.40 383.73 L 241.08 383.81 L 240.75 383.90 L 240.43 383.99 L 240.10 384.07 L 239.77 384.16 L 239.45 384.25 L 239.12 384.33 L 238.79 384.42 L 238.47 384.51 L 238.14 384.60 L 237.81 384.68 L 237.49 384.77 L 237.16 384.86 L 236.84 384.95 L 236.51 385.04 L 236.18 385.13 L 235.86 385.22 L 235.53 385.31 L 235.21 385.40 L 234.88 385.50 L 234.56 385.59 L 234.23 385.68 L 233.90 385.78 L 233.58 385.87 L 233.25 385.97 L 232.93 386.06 L 232.61 386.16 L 232.28 386.25 L 231.96 386.35 L 231.63 386.45 L 231.31 386.55 L 230.98 386.65 L 230.66 386.75 L 230.34 386.85 L 230.01 386.95 L 229.69 387.05 L 229.37 387.15 L 229.05 387.26 L 228.72 387.36 L 228.40 387.47 L 228.08 387.57 L 227.76 387.68 L 227.44 387.79 L 227.11 387.90 L 226.79 388.01 L 226.47 388.12 L 226.15 388.23 L 225.83 388.34 L 225.51 388.45 L 225.19 388.57 L 224.87 388.68 L 224.55 388.80 L 224.23 388.92 L 223.92 389.03 L 223.60 389.15 L 223.28 389.27 L 222.96 389.40 L 222.64 389.52 L 222.33 389.64 L 222.01 389.77 L 221.69 389.89 L 221.38 390.02 L 221.06 390.15 L 220.75 390.28 L 220.43 390.41 L 220.12 390.54 L 219.80 390.67 L 219.49 390.81 L 219.18 390.94 L 218.86 391.08 L 218.55 391.22 L 218.24 391.36 L 217.93 391.50 L 217.61 391.64 L 217.30 391.78 L 216.99 391.93 L 216.68 392.08 L 216.37 392.22 L 216.06 392.37 L 215.75 392.52 L 215.45 392.68 L 215.14 392.83 L 214.83 392.98 L 214.52 393.14 L 214.22 393.30 L 213.91 393.46 L 213.60 393.62 L 213.30 393.78 L 212.99 393.95 L 212.69 394.11 L 212.39 394.28 L 212.08 394.45 L 211.78 394.62 L 211.48 394.79 L 211.18 394.97 L 210.88 395.14 L 210.58 395.32 L 210.28 395.50 L 209.98 395.68 L 209.68 395.87 L 209.38 396.05 L 209.08 396.24 L 208.79 396.43 L 208.49 396.62 L 208.20 396.81 Z" fill="#000"/><circle cx="209.02" cy="398.06" r="1.50" fill="#000"/><circle cx="271.99" cy="375.79" r="1.50" fill="#000"/>
<path d="M 240 386.5 C 248 384.5, 256 382, 263 379 C 267 377.5, 271 375.5, 274 374 L 278.5 375.2 C 276 378, 274 380.5, 271 382.5 C 268 385, 264 386.8, 258 387.8 C 252 388.5, 246 388.2, 240 386.5 Z" fill="#000"/>
<path d="M 173.04 362.98 C 173.26 362.69 173.90 361.76 174.37 361.20 C 174.84 360.64 175.33 360.10 175.85 359.60 C 176.37 359.11 176.92 358.64 177.48 358.21 C 178.05 357.79 178.63 357.39 179.24 357.04 C 179.84 356.69 180.47 356.37 181.10 356.09 C 181.74 355.82 182.40 355.58 183.06 355.39 C 183.73 355.19 184.41 355.04 185.09 354.92 C 185.78 354.81 186.48 354.74 187.18 354.71 C 187.88 354.68 188.59 354.69 189.31 354.74 C 190.02 354.80 190.73 354.89 191.45 355.03 C 192.16 355.16 192.87 355.34 193.58 355.56 C 194.29 355.78 195.00 356.04 195.69 356.33 C 196.39 356.63 197.08 356.97 197.76 357.34 C 198.44 357.72 199.11 358.13 199.76 358.58 C 200.42 359.03 201.06 359.51 201.69 360.03 C 202.31 360.54 202.92 361.10 203.51 361.68 C 204.10 362.26 204.67 362.87 205.21 363.51 C 205.76 364.15 206.28 364.82 206.78 365.51 C 207.28 366.20 207.76 366.92 208.21 367.66 C 208.65 368.40 209.08 369.16 209.47 369.94 C 209.86 370.72 210.22 371.52 210.56 372.33 C 210.89 373.14 211.19 373.97 211.46 374.80 C 211.73 375.64 211.97 376.48 212.18 377.34 C 212.38 378.19 212.55 379.05 212.69 379.91 C 212.83 380.77 212.93 381.63 213.00 382.49 C 213.07 383.35 213.11 384.22 213.11 385.07 C 213.11 385.92 213.07 386.77 213.01 387.61 C 212.94 388.45 212.83 389.28 212.70 390.09 C 212.56 390.91 212.39 391.71 212.19 392.50 C 211.98 393.28 211.74 394.05 211.48 394.79 C 211.21 395.54 210.90 396.27 210.57 396.96 C 210.24 397.66 209.88 398.34 209.49 398.99 C 209.10 399.64 208.68 400.26 208.23 400.85 C 207.78 401.44 207.31 402.00 206.81 402.53 C 206.31 403.06 205.78 403.55 205.24 404.01 C 204.69 404.47 204.12 404.89 203.54 405.28 C 202.95 405.67 202.34 406.02 201.72 406.33 C 201.09 406.63 200.45 406.91 199.80 407.14 C 199.14 407.37 198.47 407.56 197.79 407.71 C 197.12 407.86 196.07 407.98 195.73 408.03" stroke="#000" stroke-width="4.2" fill="none" stroke-linecap="round" stroke-linejoin="round" />
<path d="M 171.20 364.20 C 170.40 363.40 172.15 361.13 173.20 359.80 C 174.25 358.47 175.78 357.15 177.50 356.20 C 179.22 355.25 181.33 354.57 183.50 354.10 C 185.67 353.63 188.33 353.42 190.50 353.40 C 192.67 353.38 195.25 353.37 196.50 354.00 C 197.75 354.63 198.67 356.27 198.00 357.20 C 197.33 358.13 194.67 358.77 192.50 359.60 C 190.33 360.43 187.42 361.37 185.00 362.20 C 182.58 363.03 180.30 364.27 178.00 364.60 C 175.70 364.93 172.00 365.00 171.20 364.20 Z" fill="#000"/>
<path d="M 176.50 362.30 C 176.00 361.98 178.17 360.13 179.50 359.30 C 180.83 358.47 182.67 357.75 184.50 357.30 C 186.33 356.85 189.00 356.67 190.50 356.60 C 192.00 356.53 193.83 356.50 193.50 356.90 C 193.17 357.30 190.33 358.28 188.50 359.00 C 186.67 359.72 184.50 360.65 182.50 361.20 C 180.50 361.75 177.00 362.62 176.50 362.30 Z" fill="#fff"/>
<path d="M 132.02 447.36 L 132.48 447.15 L 132.94 446.94 L 133.40 446.73 L 133.86 446.51 L 134.32 446.29 L 134.78 446.08 L 135.24 445.86 L 135.70 445.64 L 136.16 445.42 L 136.62 445.20 L 137.08 444.98 L 137.54 444.76 L 138.01 444.54 L 138.47 444.32 L 138.93 444.09 L 139.40 443.87 L 139.86 443.64 L 140.32 443.41 L 140.79 443.19 L 141.25 442.96 L 141.72 442.73 L 142.18 442.50 L 142.65 442.27 L 143.11 442.03 L 143.58 441.80 L 144.04 441.57 L 144.51 441.33 L 144.97 441.10 L 145.44 440.86 L 145.90 440.62 L 146.37 440.38 L 146.84 440.14 L 147.30 439.90 L 147.77 439.66 L 148.23 439.42 L 148.70 439.17 L 149.16 438.93 L 149.63 438.68 L 150.09 438.44 L 150.56 438.19 L 151.02 437.94 L 151.49 437.69 L 151.95 437.44 L 152.42 437.19 L 152.88 436.94 L 153.35 436.69 L 153.81 436.43 L 154.28 436.18 L 154.74 435.92 L 155.20 435.66 L 155.67 435.40 L 156.13 435.14 L 156.59 434.88 L 157.06 434.62 L 157.52 434.36 L 157.98 434.10 L 158.44 433.83 L 158.90 433.57 L 159.36 433.30 L 159.83 433.03 L 160.29 432.76 L 160.75 432.49 L 161.20 432.22 L 161.66 431.95 L 162.12 431.68 L 162.58 431.40 L 163.04 431.13 L 163.49 430.85 L 163.95 430.58 L 164.41 430.30 L 164.86 430.02 L 165.32 429.74 L 165.77 429.46 L 166.22 429.17 L 166.68 428.89 L 167.13 428.60 L 167.58 428.32 L 168.03 428.03 L 168.48 427.74 L 168.93 427.45 L 169.38 427.16 L 169.83 426.87 L 170.28 426.58 L 170.72 426.28 L 171.17 425.99 L 171.62 425.69 L 172.06 425.39 L 172.50 425.09 L 172.95 424.79 L 173.39 424.49 L 173.83 424.19 L 174.27 423.89 L 174.71 423.58 L 175.15 423.28 L 175.59 422.97 L 176.02 422.66 L 176.46 422.35 L 176.90 422.04 L 177.33 421.73 L 177.76 421.42 L 178.20 421.10 L 178.63 420.79 L 179.06 420.47 L 179.49 420.15 L 179.91 419.83 L 180.34 419.51 L 180.77 419.19 L 181.19 418.87 L 181.62 418.55 L 182.04 418.22 L 182.46 417.89 L 182.88 417.57 L 183.30 417.24 L 183.72 416.91 L 184.13 416.57 L 184.55 416.24 L 184.96 415.91 L 185.38 415.57 L 185.79 415.23 L 186.20 414.90 L 186.61 414.56 L 187.02 414.22 L 187.42 413.87 L 187.83 413.53 L 188.23 413.19 L 188.64 412.84 L 189.04 412.49 L 189.44 412.14 L 189.83 411.79 L 190.23 411.44 L 190.63 411.09 L 191.02 410.74 L 191.41 410.38 L 191.81 410.02 L 192.20 409.67 L 192.58 409.31 L 192.97 408.95 L 193.36 408.58 L 193.74 408.22 L 194.12 407.86 L 194.50 407.49 L 194.88 407.12 L 195.26 406.75 L 195.63 406.38 L 196.01 406.01 L 196.38 405.63 L 196.75 405.26 L 197.12 404.88 L 197.49 404.50 L 197.85 404.12 L 198.21 403.74 L 198.58 403.35 L 198.93 402.96 L 199.29 402.57 L 199.64 402.18 L 200.00 401.79 L 200.34 401.39 L 200.69 400.99 L 201.03 400.59 L 201.38 400.19 L 201.71 399.79 L 202.05 399.38 L 202.38 398.97 L 202.71 398.56 L 203.04 398.14 L 203.36 397.73 L 203.68 397.31 L 204.00 396.88 L 204.31 396.46 L 204.62 396.03 L 204.93 395.60 L 205.23 395.17 L 205.53 394.73 L 205.83 394.29 L 206.12 393.85 L 206.41 393.41 L 206.70 392.96 L 206.98 392.51 L 207.26 392.05 L 207.53 391.60 L 207.80 391.14 L 208.06 390.68 L 208.32 390.21 L 208.58 389.74 L 208.83 389.27 L 209.08 388.79 L 209.32 388.31 L 209.56 387.83 L 209.79 387.34 L 210.02 386.85 L 210.25 386.36 L 210.47 385.86 L 210.68 385.36 L 210.89 384.86 L 211.09 384.35 L 211.29 383.84 L 211.49 383.33 L 211.67 382.81 L 211.85 382.30 L 208.64 381.18 L 208.47 381.67 L 208.30 382.15 L 208.12 382.63 L 207.93 383.10 L 207.74 383.58 L 207.55 384.04 L 207.35 384.51 L 207.14 384.97 L 206.94 385.43 L 206.72 385.89 L 206.50 386.34 L 206.28 386.79 L 206.06 387.24 L 205.82 387.68 L 205.59 388.13 L 205.35 388.57 L 205.10 389.00 L 204.86 389.44 L 204.60 389.87 L 204.35 390.30 L 204.09 390.72 L 203.82 391.15 L 203.55 391.57 L 203.28 391.99 L 203.01 392.40 L 202.73 392.82 L 202.44 393.23 L 202.16 393.64 L 201.86 394.04 L 201.57 394.45 L 201.27 394.85 L 200.97 395.25 L 200.67 395.65 L 200.36 396.05 L 200.05 396.44 L 199.73 396.84 L 199.42 397.23 L 199.10 397.62 L 198.77 398.00 L 198.45 398.39 L 198.12 398.77 L 197.79 399.15 L 197.45 399.53 L 197.11 399.91 L 196.77 400.29 L 196.43 400.66 L 196.09 401.03 L 195.74 401.41 L 195.39 401.78 L 195.04 402.14 L 194.68 402.51 L 194.32 402.88 L 193.97 403.24 L 193.60 403.61 L 193.24 403.97 L 192.88 404.33 L 192.51 404.69 L 192.14 405.04 L 191.77 405.40 L 191.40 405.76 L 191.02 406.11 L 190.65 406.46 L 190.27 406.82 L 189.89 407.17 L 189.51 407.52 L 189.13 407.86 L 188.75 408.21 L 188.36 408.56 L 187.97 408.90 L 187.59 409.24 L 187.20 409.59 L 186.81 409.93 L 186.41 410.27 L 186.02 410.60 L 185.63 410.94 L 185.23 411.28 L 184.83 411.61 L 184.43 411.94 L 184.03 412.28 L 183.63 412.61 L 183.23 412.94 L 182.82 413.26 L 182.42 413.59 L 182.01 413.92 L 181.60 414.24 L 181.19 414.57 L 180.78 414.89 L 180.37 415.21 L 179.96 415.53 L 179.55 415.85 L 179.13 416.17 L 178.71 416.48 L 178.30 416.80 L 177.88 417.11 L 177.46 417.42 L 177.04 417.74 L 176.61 418.05 L 176.19 418.36 L 175.77 418.66 L 175.34 418.97 L 174.92 419.28 L 174.49 419.58 L 174.06 419.89 L 173.63 420.19 L 173.20 420.49 L 172.77 420.79 L 172.34 421.09 L 171.91 421.39 L 171.47 421.69 L 171.04 421.98 L 170.60 422.28 L 170.17 422.57 L 169.73 422.86 L 169.29 423.15 L 168.85 423.44 L 168.41 423.73 L 167.97 424.02 L 167.53 424.31 L 167.09 424.60 L 166.65 424.88 L 166.20 425.16 L 165.76 425.45 L 165.31 425.73 L 164.87 426.01 L 164.42 426.29 L 163.97 426.57 L 163.53 426.85 L 163.08 427.12 L 162.63 427.40 L 162.18 427.67 L 161.73 427.94 L 161.28 428.22 L 160.83 428.49 L 160.38 428.76 L 159.93 429.03 L 159.47 429.30 L 159.02 429.56 L 158.57 429.83 L 158.11 430.09 L 157.66 430.36 L 157.20 430.62 L 156.75 430.88 L 156.29 431.14 L 155.84 431.41 L 155.38 431.66 L 154.92 431.92 L 154.47 432.18 L 154.01 432.44 L 153.55 432.69 L 153.09 432.94 L 152.64 433.20 L 152.18 433.45 L 151.72 433.70 L 151.26 433.95 L 150.80 434.20 L 150.34 434.45 L 149.88 434.70 L 149.42 434.94 L 148.96 435.19 L 148.50 435.43 L 148.04 435.68 L 147.58 435.92 L 147.12 436.16 L 146.66 436.40 L 146.20 436.64 L 145.74 436.88 L 145.28 437.12 L 144.82 437.36 L 144.35 437.59 L 143.89 437.83 L 143.43 438.06 L 142.97 438.30 L 142.51 438.53 L 142.05 438.76 L 141.59 438.99 L 141.13 439.22 L 140.67 439.45 L 140.21 439.68 L 139.75 439.91 L 139.29 440.13 L 138.83 440.36 L 138.37 440.59 L 137.91 440.81 L 137.45 441.03 L 136.99 441.25 L 136.53 441.48 L 136.07 441.70 L 135.61 441.92 L 135.16 442.14 L 134.70 442.35 L 134.24 442.57 L 133.78 442.79 L 133.33 443.00 L 132.87 443.22 L 132.41 443.43 L 131.96 443.64 L 131.50 443.86 L 131.05 444.07 L 130.59 444.28 Z" fill="#000"/><circle cx="131.31" cy="445.82" r="1.70" fill="#000"/><circle cx="210.25" cy="381.74" r="1.70" fill="#000"/>
<path d="M 137.09 427.11 L 137.45 426.92 L 137.81 426.73 L 138.16 426.54 L 138.52 426.35 L 138.88 426.16 L 139.24 425.97 L 139.60 425.78 L 139.95 425.58 L 140.31 425.39 L 140.67 425.20 L 141.03 425.01 L 141.39 424.82 L 141.74 424.63 L 142.10 424.44 L 142.46 424.25 L 142.82 424.06 L 143.18 423.87 L 143.53 423.68 L 143.89 423.49 L 144.25 423.30 L 144.61 423.11 L 144.97 422.92 L 145.32 422.73 L 145.68 422.54 L 146.04 422.35 L 146.40 422.16 L 146.75 421.97 L 147.11 421.78 L 147.47 421.59 L 147.82 421.40 L 148.18 421.21 L 148.53 421.01 L 148.89 420.82 L 149.25 420.63 L 149.60 420.44 L 149.96 420.24 L 150.31 420.05 L 150.67 419.85 L 151.02 419.66 L 151.38 419.46 L 151.73 419.27 L 152.08 419.07 L 152.44 418.88 L 152.79 418.68 L 153.14 418.48 L 153.50 418.28 L 153.85 418.09 L 154.20 417.89 L 154.55 417.69 L 154.90 417.49 L 155.25 417.29 L 155.60 417.08 L 155.95 416.88 L 156.30 416.68 L 156.65 416.48 L 157.00 416.27 L 157.35 416.07 L 157.70 415.86 L 158.04 415.65 L 158.39 415.45 L 158.74 415.24 L 159.08 415.03 L 159.43 414.82 L 159.77 414.61 L 160.12 414.40 L 160.46 414.18 L 160.80 413.97 L 161.15 413.75 L 161.49 413.54 L 161.83 413.32 L 162.17 413.11 L 162.51 412.89 L 162.85 412.67 L 163.19 412.45 L 163.53 412.22 L 163.87 412.00 L 164.20 411.78 L 164.54 411.55 L 164.88 411.33 L 165.21 411.10 L 165.55 410.87 L 165.88 410.64 L 166.21 410.41 L 166.55 410.18 L 166.88 409.94 L 167.21 409.71 L 167.54 409.47 L 167.87 409.24 L 168.20 409.00 L 168.52 408.76 L 168.85 408.52 L 169.18 408.28 L 169.50 408.03 L 169.83 407.79 L 170.15 407.54 L 170.47 407.30 L 170.80 407.05 L 171.12 406.80 L 171.44 406.55 L 171.76 406.30 L 172.08 406.05 L 172.39 405.80 L 172.71 405.54 L 173.03 405.29 L 173.34 405.03 L 173.66 404.78 L 173.97 404.52 L 174.29 404.26 L 174.60 404.00 L 174.91 403.74 L 175.23 403.48 L 175.54 403.22 L 175.85 402.95 L 176.16 402.69 L 176.47 402.43 L 176.77 402.16 L 177.08 401.89 L 177.39 401.63 L 177.70 401.36 L 178.00 401.09 L 178.31 400.82 L 178.61 400.55 L 178.92 400.28 L 179.22 400.01 L 179.52 399.74 L 179.82 399.47 L 180.13 399.19 L 180.43 398.92 L 180.73 398.64 L 181.03 398.37 L 181.33 398.09 L 181.62 397.82 L 181.92 397.54 L 182.22 397.26 L 182.52 396.98 L 182.81 396.71 L 183.11 396.43 L 183.40 396.15 L 183.70 395.87 L 183.99 395.59 L 184.29 395.31 L 184.58 395.02 L 184.87 394.74 L 185.17 394.46 L 185.46 394.18 L 185.75 393.89 L 186.04 393.61 L 186.33 393.33 L 186.62 393.04 L 186.91 392.76 L 187.20 392.47 L 187.49 392.19 L 187.78 391.90 L 188.06 391.62 L 188.35 391.33 L 188.64 391.05 L 188.92 390.76 L 189.21 390.47 L 189.50 390.18 L 189.78 389.90 L 190.07 389.61 L 190.35 389.32 L 190.63 389.03 L 190.92 388.74 L 191.20 388.44 L 191.48 388.15 L 191.76 387.86 L 192.04 387.56 L 192.32 387.27 L 192.60 386.97 L 192.88 386.67 L 193.15 386.37 L 193.43 386.08 L 193.70 385.77 L 193.98 385.47 L 194.25 385.17 L 194.52 384.87 L 194.79 384.56 L 195.06 384.25 L 195.33 383.94 L 195.60 383.63 L 195.86 383.32 L 196.12 383.01 L 196.39 382.70 L 196.65 382.38 L 196.91 382.06 L 197.16 381.75 L 197.42 381.42 L 197.67 381.10 L 197.92 380.78 L 198.18 380.45 L 198.42 380.13 L 198.67 379.80 L 198.92 379.46 L 199.16 379.13 L 199.40 378.80 L 199.64 378.46 L 199.88 378.12 L 200.11 377.78 L 197.97 376.31 L 197.74 376.64 L 197.51 376.96 L 197.29 377.28 L 197.05 377.61 L 196.82 377.92 L 196.59 378.24 L 196.35 378.56 L 196.11 378.87 L 195.87 379.19 L 195.63 379.50 L 195.38 379.81 L 195.13 380.12 L 194.89 380.43 L 194.64 380.73 L 194.38 381.04 L 194.13 381.34 L 193.88 381.64 L 193.62 381.94 L 193.36 382.24 L 193.10 382.54 L 192.84 382.84 L 192.58 383.14 L 192.31 383.44 L 192.05 383.73 L 191.78 384.02 L 191.51 384.32 L 191.24 384.61 L 190.97 384.90 L 190.70 385.19 L 190.43 385.48 L 190.16 385.77 L 189.88 386.06 L 189.61 386.35 L 189.33 386.64 L 189.05 386.92 L 188.77 387.21 L 188.49 387.50 L 188.21 387.78 L 187.93 388.07 L 187.65 388.35 L 187.37 388.64 L 187.08 388.92 L 186.80 389.21 L 186.51 389.49 L 186.23 389.77 L 185.94 390.06 L 185.66 390.34 L 185.37 390.62 L 185.09 390.91 L 184.80 391.19 L 184.51 391.47 L 184.22 391.75 L 183.94 392.03 L 183.65 392.31 L 183.36 392.59 L 183.07 392.87 L 182.78 393.15 L 182.49 393.43 L 182.20 393.71 L 181.91 393.98 L 181.62 394.26 L 181.32 394.54 L 181.03 394.81 L 180.74 395.09 L 180.44 395.36 L 180.15 395.64 L 179.86 395.91 L 179.56 396.18 L 179.27 396.46 L 178.97 396.73 L 178.67 397.00 L 178.38 397.27 L 178.08 397.54 L 177.78 397.81 L 177.48 398.07 L 177.18 398.34 L 176.89 398.61 L 176.59 398.87 L 176.28 399.14 L 175.98 399.40 L 175.68 399.67 L 175.38 399.93 L 175.08 400.19 L 174.77 400.45 L 174.47 400.71 L 174.16 400.97 L 173.86 401.23 L 173.55 401.49 L 173.25 401.74 L 172.94 402.00 L 172.63 402.25 L 172.32 402.51 L 172.02 402.76 L 171.71 403.01 L 171.40 403.26 L 171.09 403.51 L 170.77 403.76 L 170.46 404.01 L 170.15 404.26 L 169.84 404.50 L 169.52 404.75 L 169.21 404.99 L 168.89 405.23 L 168.58 405.47 L 168.26 405.71 L 167.94 405.95 L 167.62 406.19 L 167.31 406.43 L 166.99 406.66 L 166.67 406.90 L 166.34 407.13 L 166.02 407.36 L 165.70 407.59 L 165.38 407.82 L 165.05 408.05 L 164.73 408.28 L 164.40 408.50 L 164.08 408.73 L 163.75 408.95 L 163.42 409.17 L 163.09 409.39 L 162.76 409.61 L 162.43 409.83 L 162.10 410.05 L 161.77 410.27 L 161.44 410.49 L 161.10 410.70 L 160.77 410.92 L 160.44 411.13 L 160.10 411.34 L 159.76 411.55 L 159.43 411.76 L 159.09 411.97 L 158.75 412.18 L 158.41 412.39 L 158.07 412.60 L 157.73 412.81 L 157.39 413.01 L 157.05 413.22 L 156.71 413.42 L 156.37 413.62 L 156.03 413.83 L 155.68 414.03 L 155.34 414.23 L 154.99 414.43 L 154.65 414.63 L 154.30 414.83 L 153.96 415.03 L 153.61 415.23 L 153.26 415.43 L 152.92 415.63 L 152.57 415.82 L 152.22 416.02 L 151.87 416.21 L 151.52 416.41 L 151.17 416.61 L 150.82 416.80 L 150.47 416.99 L 150.12 417.19 L 149.77 417.38 L 149.42 417.57 L 149.07 417.77 L 148.71 417.96 L 148.36 418.15 L 148.01 418.34 L 147.65 418.53 L 147.30 418.73 L 146.95 418.92 L 146.59 419.11 L 146.24 419.30 L 145.88 419.49 L 145.53 419.68 L 145.17 419.87 L 144.81 420.06 L 144.46 420.25 L 144.10 420.44 L 143.74 420.63 L 143.39 420.82 L 143.03 421.01 L 142.67 421.20 L 142.32 421.39 L 141.96 421.58 L 141.60 421.77 L 141.24 421.96 L 140.88 422.15 L 140.53 422.34 L 140.17 422.53 L 139.81 422.72 L 139.45 422.91 L 139.09 423.10 L 138.73 423.29 L 138.37 423.48 L 138.02 423.67 L 137.66 423.86 L 137.30 424.05 L 136.94 424.25 L 136.58 424.44 L 136.22 424.63 L 135.86 424.82 Z" fill="#000"/><circle cx="136.48" cy="425.97" r="1.30" fill="#000"/><circle cx="199.04" cy="377.04" r="1.30" fill="#000"/>
<path d="M 136.07 425.61 L 136.27 425.42 L 136.48 425.23 L 136.68 425.03 L 136.88 424.84 L 137.08 424.65 L 137.28 424.45 L 137.48 424.26 L 137.68 424.06 L 137.89 423.87 L 138.09 423.67 L 138.28 423.47 L 138.48 423.28 L 138.68 423.08 L 138.88 422.88 L 139.08 422.69 L 139.28 422.49 L 139.48 422.29 L 139.68 422.09 L 139.87 421.89 L 140.07 421.69 L 140.27 421.50 L 140.47 421.30 L 140.66 421.10 L 140.86 420.90 L 141.06 420.70 L 141.25 420.50 L 141.45 420.30 L 141.65 420.10 L 141.84 419.90 L 142.04 419.70 L 142.23 419.50 L 142.43 419.29 L 142.62 419.09 L 142.82 418.89 L 143.01 418.69 L 143.21 418.49 L 143.40 418.29 L 143.60 418.09 L 143.79 417.88 L 143.99 417.68 L 144.18 417.48 L 144.37 417.28 L 144.57 417.07 L 144.76 416.87 L 144.96 416.67 L 145.15 416.47 L 145.34 416.26 L 145.54 416.06 L 145.73 415.86 L 145.92 415.66 L 146.12 415.45 L 146.31 415.25 L 146.50 415.05 L 146.70 414.85 L 146.89 414.64 L 147.08 414.44 L 147.28 414.24 L 147.47 414.03 L 147.66 413.83 L 147.85 413.63 L 148.05 413.42 L 148.24 413.22 L 148.43 413.02 L 148.63 412.82 L 148.82 412.61 L 149.01 412.41 L 149.21 412.21 L 149.40 412.01 L 149.59 411.80 L 149.78 411.60 L 149.98 411.40 L 150.17 411.20 L 150.36 411.00 L 150.56 410.79 L 150.75 410.59 L 150.94 410.39 L 151.14 410.19 L 151.33 409.99 L 151.52 409.79 L 151.72 409.59 L 151.91 409.38 L 152.11 409.18 L 152.30 408.98 L 152.49 408.78 L 152.69 408.58 L 152.88 408.38 L 153.08 408.18 L 153.27 407.98 L 153.47 407.78 L 153.66 407.58 L 153.86 407.39 L 154.05 407.19 L 154.25 406.99 L 154.44 406.79 L 154.64 406.59 L 154.83 406.39 L 155.03 406.20 L 155.22 406.00 L 155.42 405.80 L 155.62 405.61 L 155.81 405.41 L 156.01 405.21 L 156.21 405.02 L 156.40 404.82 L 156.60 404.63 L 156.80 404.43 L 157.00 404.24 L 157.19 404.04 L 157.39 403.85 L 157.59 403.66 L 157.79 403.46 L 157.99 403.27 L 158.19 403.08 L 158.39 402.88 L 158.59 402.69 L 158.79 402.50 L 158.99 402.31 L 159.19 402.12 L 159.39 401.93 L 159.59 401.74 L 159.79 401.55 L 159.99 401.36 L 160.19 401.17 L 160.39 400.98 L 160.60 400.80 L 160.80 400.61 L 161.00 400.42 L 161.21 400.24 L 161.41 400.05 L 161.61 399.87 L 161.82 399.68 L 162.02 399.50 L 162.23 399.31 L 162.43 399.13 L 162.64 398.95 L 162.84 398.76 L 163.05 398.58 L 163.26 398.40 L 163.46 398.22 L 163.67 398.04 L 163.88 397.86 L 164.09 397.68 L 164.30 397.50 L 164.51 397.32 L 164.71 397.15 L 164.92 396.97 L 165.13 396.79 L 165.34 396.62 L 165.56 396.44 L 165.77 396.27 L 165.98 396.09 L 166.19 395.92 L 166.40 395.75 L 166.62 395.57 L 166.83 395.40 L 167.04 395.23 L 167.26 395.06 L 167.47 394.89 L 167.69 394.72 L 167.91 394.55 L 168.12 394.39 L 168.34 394.22 L 168.56 394.05 L 168.77 393.89 L 168.99 393.72 L 169.21 393.56 L 169.43 393.39 L 169.65 393.23 L 169.87 393.07 L 170.09 392.91 L 170.31 392.75 L 170.53 392.58 L 170.76 392.43 L 170.98 392.27 L 171.20 392.11 L 171.43 391.95 L 171.65 391.80 L 171.88 391.64 L 172.10 391.48 L 172.33 391.33 L 172.55 391.18 L 172.78 391.03 L 173.01 390.87 L 173.24 390.72 L 173.47 390.57 L 173.70 390.42 L 173.93 390.27 L 174.16 390.13 L 174.39 389.98 L 174.62 389.83 L 174.85 389.69 L 175.09 389.54 L 175.32 389.40 L 175.55 389.26 L 175.79 389.12 L 176.03 388.98 L 176.26 388.84 L 176.50 388.70 L 176.74 388.56 L 175.18 385.88 L 174.94 386.02 L 174.69 386.17 L 174.44 386.31 L 174.20 386.46 L 173.95 386.61 L 173.70 386.76 L 173.46 386.90 L 173.22 387.06 L 172.97 387.21 L 172.73 387.36 L 172.49 387.51 L 172.25 387.67 L 172.01 387.82 L 171.77 387.98 L 171.53 388.13 L 171.30 388.29 L 171.06 388.45 L 170.82 388.61 L 170.59 388.77 L 170.35 388.93 L 170.12 389.09 L 169.88 389.25 L 169.65 389.41 L 169.42 389.57 L 169.18 389.74 L 168.95 389.90 L 168.72 390.07 L 168.49 390.23 L 168.26 390.40 L 168.03 390.57 L 167.81 390.74 L 167.58 390.91 L 167.35 391.08 L 167.12 391.25 L 166.90 391.42 L 166.67 391.59 L 166.45 391.76 L 166.22 391.93 L 166.00 392.11 L 165.78 392.28 L 165.56 392.46 L 165.33 392.63 L 165.11 392.81 L 164.89 392.98 L 164.67 393.16 L 164.45 393.34 L 164.23 393.52 L 164.01 393.69 L 163.80 393.87 L 163.58 394.05 L 163.36 394.23 L 163.14 394.42 L 162.93 394.60 L 162.71 394.78 L 162.50 394.96 L 162.28 395.14 L 162.07 395.33 L 161.85 395.51 L 161.64 395.70 L 161.43 395.88 L 161.21 396.07 L 161.00 396.25 L 160.79 396.44 L 160.58 396.63 L 160.37 396.82 L 160.16 397.00 L 159.95 397.19 L 159.74 397.38 L 159.53 397.57 L 159.32 397.76 L 159.11 397.95 L 158.91 398.14 L 158.70 398.33 L 158.49 398.52 L 158.28 398.71 L 158.08 398.91 L 157.87 399.10 L 157.67 399.29 L 157.46 399.48 L 157.26 399.68 L 157.05 399.87 L 156.85 400.07 L 156.64 400.26 L 156.44 400.46 L 156.24 400.65 L 156.03 400.85 L 155.83 401.04 L 155.63 401.24 L 155.43 401.43 L 155.23 401.63 L 155.02 401.83 L 154.82 402.03 L 154.62 402.22 L 154.42 402.42 L 154.22 402.62 L 154.02 402.82 L 153.82 403.02 L 153.62 403.22 L 153.42 403.41 L 153.23 403.61 L 153.03 403.81 L 152.83 404.01 L 152.63 404.21 L 152.43 404.41 L 152.23 404.61 L 152.04 404.81 L 151.84 405.01 L 151.64 405.22 L 151.45 405.42 L 151.25 405.62 L 151.05 405.82 L 150.86 406.02 L 150.66 406.22 L 150.46 406.42 L 150.27 406.63 L 150.07 406.83 L 149.88 407.03 L 149.68 407.23 L 149.49 407.43 L 149.29 407.64 L 149.10 407.84 L 148.90 408.04 L 148.71 408.24 L 148.51 408.45 L 148.32 408.65 L 148.12 408.85 L 147.93 409.06 L 147.74 409.26 L 147.54 409.46 L 147.35 409.66 L 147.16 409.87 L 146.96 410.07 L 146.77 410.27 L 146.57 410.48 L 146.38 410.68 L 146.19 410.88 L 146.00 411.09 L 145.80 411.29 L 145.61 411.49 L 145.42 411.69 L 145.22 411.90 L 145.03 412.10 L 144.84 412.30 L 144.64 412.50 L 144.45 412.71 L 144.26 412.91 L 144.07 413.11 L 143.87 413.31 L 143.68 413.52 L 143.49 413.72 L 143.29 413.92 L 143.10 414.12 L 142.91 414.33 L 142.72 414.53 L 142.52 414.73 L 142.33 414.93 L 142.14 415.13 L 141.94 415.33 L 141.75 415.53 L 141.56 415.73 L 141.36 415.93 L 141.17 416.14 L 140.98 416.34 L 140.78 416.54 L 140.59 416.74 L 140.40 416.94 L 140.20 417.13 L 140.01 417.33 L 139.82 417.53 L 139.62 417.73 L 139.43 417.93 L 139.23 418.13 L 139.04 418.33 L 138.85 418.52 L 138.65 418.72 L 138.46 418.92 L 138.26 419.12 L 138.07 419.31 L 137.87 419.51 L 137.68 419.71 L 137.48 419.90 L 137.29 420.10 L 137.09 420.29 L 136.90 420.49 L 136.70 420.68 L 136.50 420.88 L 136.31 421.07 L 136.11 421.26 L 135.91 421.46 L 135.72 421.65 L 135.52 421.84 L 135.32 422.03 L 135.13 422.23 L 134.93 422.42 L 134.73 422.61 L 134.53 422.80 L 134.33 422.99 L 134.13 423.18 L 133.94 423.37 Z" fill="#000"/><circle cx="135.00" cy="424.49" r="1.55" fill="#000"/><circle cx="175.96" cy="387.22" r="1.55" fill="#000"/>
<path d="M 172.99 390.47 L 173.12 390.40 L 173.25 390.33 L 173.38 390.26 L 173.50 390.18 L 173.63 390.11 L 173.76 390.04 L 173.89 389.97 L 174.02 389.90 L 174.15 389.83 L 174.28 389.75 L 174.40 389.68 L 174.53 389.61 L 174.66 389.54 L 174.79 389.47 L 174.92 389.40 L 175.05 389.33 L 175.18 389.26 L 175.31 389.19 L 175.44 389.12 L 175.57 389.05 L 175.70 388.98 L 175.83 388.91 L 175.96 388.84 L 176.09 388.77 L 176.22 388.70 L 176.34 388.63 L 176.47 388.56 L 176.60 388.49 L 176.73 388.42 L 176.86 388.35 L 176.99 388.28 L 177.12 388.22 L 177.25 388.15 L 177.38 388.08 L 177.51 388.01 L 177.65 387.94 L 177.78 387.87 L 177.91 387.80 L 178.04 387.74 L 178.17 387.67 L 178.30 387.60 L 178.43 387.53 L 178.56 387.46 L 178.69 387.40 L 178.82 387.33 L 178.95 387.26 L 179.08 387.19 L 179.21 387.13 L 179.34 387.06 L 179.47 386.99 L 179.61 386.92 L 179.74 386.86 L 179.87 386.79 L 180.00 386.72 L 180.13 386.66 L 180.26 386.59 L 180.39 386.52 L 180.52 386.46 L 180.66 386.39 L 180.79 386.32 L 180.92 386.26 L 181.05 386.19 L 181.18 386.12 L 181.31 386.06 L 181.44 385.99 L 181.58 385.93 L 181.71 385.86 L 181.84 385.79 L 181.97 385.73 L 182.10 385.66 L 182.24 385.60 L 182.37 385.53 L 182.50 385.47 L 182.63 385.40 L 182.76 385.34 L 182.90 385.27 L 183.03 385.21 L 183.16 385.14 L 183.29 385.08 L 183.43 385.01 L 183.56 384.95 L 183.69 384.88 L 183.82 384.82 L 183.96 384.75 L 184.09 384.69 L 184.22 384.62 L 184.35 384.56 L 184.49 384.50 L 184.62 384.43 L 184.75 384.37 L 184.88 384.30 L 185.02 384.24 L 185.15 384.18 L 185.28 384.11 L 185.42 384.05 L 185.55 383.98 L 185.68 383.92 L 185.81 383.86 L 185.95 383.79 L 186.08 383.73 L 186.21 383.67 L 186.35 383.60 L 186.48 383.54 L 186.61 383.48 L 186.75 383.41 L 186.88 383.35 L 187.01 383.29 L 187.15 383.23 L 187.28 383.16 L 187.41 383.10 L 187.55 383.04 L 187.68 382.98 L 187.81 382.91 L 187.95 382.85 L 188.08 382.79 L 188.22 382.73 L 188.35 382.66 L 188.48 382.60 L 188.62 382.54 L 188.75 382.48 L 188.88 382.41 L 189.02 382.35 L 189.15 382.29 L 189.29 382.23 L 189.42 382.17 L 189.55 382.11 L 189.69 382.04 L 189.82 381.98 L 189.96 381.92 L 190.09 381.86 L 190.22 381.80 L 190.36 381.74 L 190.49 381.67 L 190.63 381.61 L 190.76 381.55 L 190.90 381.49 L 191.03 381.43 L 191.16 381.37 L 191.30 381.31 L 191.43 381.25 L 191.57 381.18 L 191.70 381.12 L 191.84 381.06 L 191.97 381.00 L 192.11 380.94 L 192.24 380.88 L 192.37 380.82 L 192.51 380.76 L 192.64 380.70 L 192.78 380.64 L 192.91 380.58 L 193.05 380.52 L 193.18 380.46 L 193.32 380.40 L 193.45 380.34 L 193.59 380.28 L 193.72 380.22 L 193.86 380.16 L 193.99 380.10 L 194.13 380.03 L 194.26 379.97 L 194.40 379.91 L 194.53 379.85 L 194.67 379.79 L 194.80 379.73 L 194.94 379.67 L 195.07 379.62 L 195.21 379.56 L 195.34 379.50 L 195.48 379.44 L 195.61 379.38 L 195.75 379.32 L 195.88 379.26 L 196.02 379.20 L 196.15 379.14 L 196.29 379.08 L 196.42 379.02 L 196.56 378.96 L 196.69 378.90 L 196.83 378.84 L 196.96 378.78 L 197.10 378.72 L 197.23 378.66 L 197.37 378.60 L 197.50 378.54 L 197.64 378.48 L 197.77 378.43 L 197.91 378.37 L 198.04 378.31 L 198.18 378.25 L 198.31 378.19 L 198.45 378.13 L 198.59 378.07 L 198.72 378.01 L 198.86 377.95 L 198.99 377.89 L 199.13 377.83 L 199.26 377.78 L 199.40 377.72 L 198.60 375.88 L 198.47 375.94 L 198.33 376.00 L 198.19 376.06 L 198.06 376.12 L 197.92 376.18 L 197.79 376.24 L 197.65 376.30 L 197.52 376.36 L 197.38 376.41 L 197.24 376.47 L 197.11 376.53 L 196.97 376.59 L 196.84 376.65 L 196.70 376.71 L 196.57 376.77 L 196.43 376.83 L 196.29 376.89 L 196.16 376.95 L 196.02 377.01 L 195.89 377.07 L 195.75 377.13 L 195.62 377.19 L 195.48 377.25 L 195.34 377.31 L 195.21 377.37 L 195.07 377.43 L 194.94 377.49 L 194.80 377.55 L 194.67 377.61 L 194.53 377.67 L 194.40 377.73 L 194.26 377.79 L 194.12 377.85 L 193.99 377.91 L 193.85 377.97 L 193.72 378.03 L 193.58 378.09 L 193.45 378.15 L 193.31 378.21 L 193.18 378.27 L 193.04 378.33 L 192.91 378.39 L 192.77 378.45 L 192.63 378.51 L 192.50 378.57 L 192.36 378.63 L 192.23 378.69 L 192.09 378.75 L 191.96 378.81 L 191.82 378.87 L 191.69 378.94 L 191.55 379.00 L 191.42 379.06 L 191.28 379.12 L 191.15 379.18 L 191.01 379.24 L 190.88 379.30 L 190.74 379.36 L 190.61 379.42 L 190.47 379.49 L 190.34 379.55 L 190.20 379.61 L 190.07 379.67 L 189.93 379.73 L 189.80 379.79 L 189.66 379.86 L 189.53 379.92 L 189.39 379.98 L 189.26 380.04 L 189.12 380.10 L 188.99 380.16 L 188.85 380.23 L 188.72 380.29 L 188.58 380.35 L 188.45 380.41 L 188.31 380.48 L 188.18 380.54 L 188.04 380.60 L 187.91 380.66 L 187.77 380.73 L 187.64 380.79 L 187.50 380.85 L 187.37 380.91 L 187.24 380.98 L 187.10 381.04 L 186.97 381.10 L 186.83 381.16 L 186.70 381.23 L 186.56 381.29 L 186.43 381.35 L 186.30 381.42 L 186.16 381.48 L 186.03 381.54 L 185.89 381.61 L 185.76 381.67 L 185.62 381.73 L 185.49 381.80 L 185.36 381.86 L 185.22 381.92 L 185.09 381.99 L 184.95 382.05 L 184.82 382.12 L 184.69 382.18 L 184.55 382.24 L 184.42 382.31 L 184.28 382.37 L 184.15 382.44 L 184.02 382.50 L 183.88 382.57 L 183.75 382.63 L 183.61 382.70 L 183.48 382.76 L 183.35 382.82 L 183.21 382.89 L 183.08 382.95 L 182.95 383.02 L 182.81 383.08 L 182.68 383.15 L 182.55 383.22 L 182.41 383.28 L 182.28 383.35 L 182.15 383.41 L 182.01 383.48 L 181.88 383.54 L 181.75 383.61 L 181.61 383.67 L 181.48 383.74 L 181.35 383.81 L 181.21 383.87 L 181.08 383.94 L 180.95 384.00 L 180.82 384.07 L 180.68 384.14 L 180.55 384.20 L 180.42 384.27 L 180.28 384.34 L 180.15 384.40 L 180.02 384.47 L 179.89 384.54 L 179.75 384.60 L 179.62 384.67 L 179.49 384.74 L 179.36 384.81 L 179.22 384.87 L 179.09 384.94 L 178.96 385.01 L 178.83 385.08 L 178.69 385.14 L 178.56 385.21 L 178.43 385.28 L 178.30 385.35 L 178.16 385.42 L 178.03 385.48 L 177.90 385.55 L 177.77 385.62 L 177.64 385.69 L 177.50 385.76 L 177.37 385.83 L 177.24 385.89 L 177.11 385.96 L 176.98 386.03 L 176.85 386.10 L 176.71 386.17 L 176.58 386.24 L 176.45 386.31 L 176.32 386.38 L 176.19 386.45 L 176.06 386.52 L 175.93 386.59 L 175.79 386.66 L 175.66 386.73 L 175.53 386.80 L 175.40 386.87 L 175.27 386.94 L 175.14 387.01 L 175.01 387.08 L 174.88 387.15 L 174.75 387.22 L 174.62 387.29 L 174.48 387.36 L 174.35 387.43 L 174.22 387.50 L 174.09 387.57 L 173.96 387.65 L 173.83 387.72 L 173.70 387.79 L 173.57 387.86 L 173.44 387.93 L 173.31 388.00 L 173.18 388.08 L 173.05 388.15 L 172.92 388.22 L 172.79 388.29 L 172.66 388.36 L 172.53 388.44 L 172.40 388.51 L 172.27 388.58 L 172.14 388.66 L 172.01 388.73 Z" fill="#000"/><circle cx="172.50" cy="389.60" r="1.00" fill="#000"/><circle cx="199.00" cy="376.80" r="1.00" fill="#000"/>
<path d="M 176.20 386.06 L 176.31 386.01 L 176.42 385.96 L 176.52 385.91 L 176.63 385.87 L 176.74 385.82 L 176.84 385.77 L 176.95 385.72 L 177.06 385.67 L 177.17 385.63 L 177.27 385.58 L 177.38 385.53 L 177.49 385.48 L 177.59 385.44 L 177.70 385.39 L 177.81 385.34 L 177.91 385.29 L 178.02 385.24 L 178.13 385.19 L 178.23 385.15 L 178.34 385.10 L 178.45 385.05 L 178.55 385.00 L 178.66 384.95 L 178.77 384.91 L 178.87 384.86 L 178.98 384.81 L 179.09 384.76 L 179.19 384.71 L 179.30 384.66 L 179.41 384.62 L 179.51 384.57 L 179.62 384.52 L 179.72 384.47 L 179.83 384.42 L 179.94 384.37 L 180.04 384.32 L 180.15 384.28 L 180.26 384.23 L 180.36 384.18 L 180.47 384.13 L 180.58 384.08 L 180.68 384.03 L 180.79 383.98 L 180.90 383.93 L 181.00 383.89 L 181.11 383.84 L 181.21 383.79 L 181.32 383.74 L 181.43 383.69 L 181.53 383.64 L 181.64 383.59 L 181.75 383.54 L 181.85 383.49 L 181.96 383.45 L 182.06 383.40 L 182.17 383.35 L 182.28 383.30 L 182.38 383.25 L 182.49 383.20 L 182.60 383.15 L 182.70 383.10 L 182.81 383.05 L 182.91 383.00 L 183.02 382.95 L 183.13 382.90 L 183.23 382.85 L 183.34 382.80 L 183.44 382.76 L 183.55 382.71 L 183.66 382.66 L 183.76 382.61 L 183.87 382.56 L 183.97 382.51 L 184.08 382.46 L 184.19 382.41 L 184.29 382.36 L 184.40 382.31 L 184.50 382.26 L 184.61 382.21 L 184.72 382.16 L 184.82 382.11 L 184.93 382.06 L 185.03 382.01 L 185.14 381.96 L 185.24 381.91 L 185.35 381.86 L 185.46 381.81 L 185.56 381.76 L 185.67 381.71 L 185.77 381.66 L 185.88 381.61 L 185.99 381.56 L 186.09 381.51 L 186.20 381.46 L 186.30 381.41 L 186.41 381.36 L 186.51 381.31 L 186.62 381.26 L 186.73 381.21 L 186.83 381.16 L 186.94 381.11 L 187.04 381.06 L 187.15 381.01 L 187.25 380.96 L 187.36 380.91 L 187.46 380.86 L 187.57 380.81 L 187.68 380.76 L 187.78 380.70 L 187.89 380.65 L 187.99 380.60 L 188.10 380.55 L 188.20 380.50 L 188.31 380.45 L 188.41 380.40 L 188.52 380.35 L 188.62 380.30 L 188.73 380.25 L 188.84 380.20 L 188.94 380.15 L 189.05 380.10 L 189.15 380.05 L 189.26 379.99 L 189.36 379.94 L 189.47 379.89 L 189.57 379.84 L 189.68 379.79 L 189.78 379.74 L 189.89 379.69 L 189.99 379.64 L 190.10 379.59 L 190.20 379.53 L 190.31 379.48 L 190.41 379.43 L 190.52 379.38 L 190.63 379.33 L 190.73 379.28 L 190.84 379.23 L 190.94 379.18 L 191.05 379.12 L 191.15 379.07 L 191.26 379.02 L 191.36 378.97 L 191.47 378.92 L 191.57 378.87 L 191.68 378.82 L 191.78 378.76 L 191.89 378.71 L 191.99 378.66 L 192.10 378.61 L 192.20 378.56 L 192.31 378.51 L 192.41 378.45 L 192.52 378.40 L 192.62 378.35 L 192.73 378.30 L 192.83 378.25 L 192.94 378.20 L 193.04 378.14 L 193.15 378.09 L 193.25 378.04 L 193.36 377.99 L 193.46 377.94 L 193.57 377.88 L 193.67 377.83 L 193.77 377.78 L 193.88 377.73 L 193.98 377.68 L 194.09 377.62 L 194.19 377.57 L 194.30 377.52 L 194.40 377.47 L 194.51 377.41 L 194.61 377.36 L 194.72 377.31 L 194.82 377.26 L 194.93 377.20 L 195.03 377.15 L 195.14 377.10 L 195.24 377.05 L 195.35 376.99 L 195.45 376.94 L 195.55 376.89 L 195.66 376.84 L 195.76 376.78 L 195.87 376.73 L 195.97 376.68 L 196.08 376.63 L 196.18 376.57 L 196.29 376.52 L 196.39 376.47 L 196.50 376.42 L 196.60 376.36 L 196.70 376.31 L 196.81 376.26 L 196.91 376.20 L 197.02 376.15 L 197.12 376.10 L 197.23 376.05 L 196.77 375.15 L 196.67 375.21 L 196.57 375.26 L 196.46 375.31 L 196.36 375.37 L 196.25 375.42 L 196.15 375.47 L 196.04 375.52 L 195.94 375.58 L 195.84 375.63 L 195.73 375.68 L 195.63 375.73 L 195.52 375.79 L 195.42 375.84 L 195.31 375.89 L 195.21 375.94 L 195.11 376.00 L 195.00 376.05 L 194.90 376.10 L 194.79 376.15 L 194.69 376.21 L 194.58 376.26 L 194.48 376.31 L 194.37 376.36 L 194.27 376.41 L 194.17 376.47 L 194.06 376.52 L 193.96 376.57 L 193.85 376.62 L 193.75 376.68 L 193.64 376.73 L 193.54 376.78 L 193.43 376.83 L 193.33 376.88 L 193.23 376.94 L 193.12 376.99 L 193.02 377.04 L 192.91 377.09 L 192.81 377.14 L 192.70 377.20 L 192.60 377.25 L 192.49 377.30 L 192.39 377.35 L 192.28 377.40 L 192.18 377.45 L 192.07 377.51 L 191.97 377.56 L 191.86 377.61 L 191.76 377.66 L 191.66 377.71 L 191.55 377.76 L 191.45 377.82 L 191.34 377.87 L 191.24 377.92 L 191.13 377.97 L 191.03 378.02 L 190.92 378.07 L 190.82 378.12 L 190.71 378.17 L 190.61 378.23 L 190.50 378.28 L 190.40 378.33 L 190.29 378.38 L 190.19 378.43 L 190.08 378.48 L 189.98 378.53 L 189.87 378.58 L 189.77 378.64 L 189.66 378.69 L 189.56 378.74 L 189.45 378.79 L 189.35 378.84 L 189.24 378.89 L 189.14 378.94 L 189.03 378.99 L 188.93 379.04 L 188.82 379.09 L 188.72 379.14 L 188.61 379.20 L 188.51 379.25 L 188.40 379.30 L 188.30 379.35 L 188.19 379.40 L 188.09 379.45 L 187.98 379.50 L 187.88 379.55 L 187.77 379.60 L 187.66 379.65 L 187.56 379.70 L 187.45 379.75 L 187.35 379.80 L 187.24 379.85 L 187.14 379.90 L 187.03 379.95 L 186.93 380.00 L 186.82 380.05 L 186.72 380.11 L 186.61 380.16 L 186.51 380.21 L 186.40 380.26 L 186.30 380.31 L 186.19 380.36 L 186.08 380.41 L 185.98 380.46 L 185.87 380.51 L 185.77 380.56 L 185.66 380.61 L 185.56 380.66 L 185.45 380.71 L 185.35 380.76 L 185.24 380.81 L 185.13 380.86 L 185.03 380.91 L 184.92 380.96 L 184.82 381.01 L 184.71 381.06 L 184.61 381.11 L 184.50 381.16 L 184.40 381.21 L 184.29 381.25 L 184.18 381.30 L 184.08 381.35 L 183.97 381.40 L 183.87 381.45 L 183.76 381.50 L 183.66 381.55 L 183.55 381.60 L 183.44 381.65 L 183.34 381.70 L 183.23 381.75 L 183.13 381.80 L 183.02 381.85 L 182.92 381.90 L 182.81 381.95 L 182.70 382.00 L 182.60 382.05 L 182.49 382.10 L 182.39 382.14 L 182.28 382.19 L 182.17 382.24 L 182.07 382.29 L 181.96 382.34 L 181.86 382.39 L 181.75 382.44 L 181.64 382.49 L 181.54 382.54 L 181.43 382.59 L 181.33 382.64 L 181.22 382.68 L 181.11 382.73 L 181.01 382.78 L 180.90 382.83 L 180.80 382.88 L 180.69 382.93 L 180.58 382.98 L 180.48 383.03 L 180.37 383.07 L 180.27 383.12 L 180.16 383.17 L 180.05 383.22 L 179.95 383.27 L 179.84 383.32 L 179.73 383.37 L 179.63 383.41 L 179.52 383.46 L 179.42 383.51 L 179.31 383.56 L 179.20 383.61 L 179.10 383.66 L 178.99 383.71 L 178.88 383.75 L 178.78 383.80 L 178.67 383.85 L 178.57 383.90 L 178.46 383.95 L 178.35 383.99 L 178.25 384.04 L 178.14 384.09 L 178.03 384.14 L 177.93 384.19 L 177.82 384.24 L 177.71 384.28 L 177.61 384.33 L 177.50 384.38 L 177.40 384.43 L 177.29 384.48 L 177.18 384.52 L 177.08 384.57 L 176.97 384.62 L 176.86 384.67 L 176.76 384.71 L 176.65 384.76 L 176.54 384.81 L 176.44 384.86 L 176.33 384.91 L 176.22 384.95 L 176.12 385.00 L 176.01 385.05 L 175.90 385.10 L 175.80 385.14 Z" fill="#000"/><circle cx="176.00" cy="385.60" r="0.50" fill="#000"/><circle cx="197.00" cy="375.60" r="0.50" fill="#000"/>
<path d="M 172.00 389.60 L 176.40 400.80" stroke="#000" stroke-width="5.8" fill="none" stroke-linecap="butt" stroke-linejoin="round" />
<path d="M 121.99 417.17 L 122.17 417.03 L 122.34 416.88 L 122.52 416.73 L 122.70 416.58 L 122.87 416.44 L 123.05 416.29 L 123.23 416.14 L 123.40 415.99 L 123.58 415.85 L 123.76 415.70 L 123.93 415.55 L 124.11 415.40 L 124.29 415.26 L 124.47 415.11 L 124.64 414.96 L 124.82 414.82 L 125.00 414.67 L 125.18 414.52 L 125.35 414.38 L 125.53 414.23 L 125.71 414.08 L 125.89 413.93 L 126.07 413.79 L 126.25 413.64 L 126.43 413.49 L 126.60 413.35 L 126.78 413.20 L 126.96 413.06 L 127.14 412.91 L 127.32 412.76 L 127.50 412.62 L 127.68 412.47 L 127.86 412.32 L 128.04 412.18 L 128.22 412.03 L 128.40 411.88 L 128.58 411.74 L 128.75 411.59 L 128.93 411.44 L 129.11 411.30 L 129.29 411.15 L 129.47 411.00 L 129.65 410.86 L 129.83 410.71 L 130.01 410.56 L 130.19 410.42 L 130.37 410.27 L 130.55 410.12 L 130.73 409.97 L 130.91 409.83 L 131.09 409.68 L 131.27 409.53 L 131.45 409.39 L 131.63 409.24 L 131.81 409.09 L 131.99 408.94 L 132.17 408.80 L 132.35 408.65 L 132.53 408.50 L 132.71 408.35 L 132.89 408.20 L 133.07 408.06 L 133.25 407.91 L 133.42 407.76 L 133.60 407.61 L 133.78 407.46 L 133.96 407.31 L 134.14 407.17 L 134.32 407.02 L 134.50 406.87 L 134.68 406.72 L 134.86 406.57 L 135.04 406.42 L 135.22 406.27 L 135.39 406.12 L 135.57 405.97 L 135.75 405.82 L 135.93 405.67 L 136.11 405.52 L 136.29 405.37 L 136.46 405.22 L 136.64 405.07 L 136.82 404.92 L 137.00 404.77 L 137.17 404.62 L 137.35 404.46 L 137.53 404.31 L 137.71 404.16 L 137.88 404.01 L 138.06 403.86 L 138.24 403.71 L 138.41 403.55 L 138.59 403.40 L 138.77 403.25 L 138.94 403.09 L 139.12 402.94 L 139.30 402.79 L 139.47 402.63 L 139.65 402.48 L 139.82 402.33 L 140.00 402.17 L 140.17 402.02 L 140.35 401.86 L 140.52 401.71 L 140.70 401.55 L 140.87 401.39 L 141.04 401.24 L 141.22 401.08 L 141.39 400.93 L 141.57 400.77 L 141.74 400.61 L 141.91 400.46 L 142.08 400.30 L 142.26 400.14 L 142.43 399.98 L 142.60 399.82 L 142.77 399.67 L 142.95 399.51 L 143.12 399.35 L 143.29 399.19 L 143.46 399.03 L 143.63 398.87 L 143.80 398.71 L 143.97 398.55 L 144.14 398.39 L 144.31 398.23 L 144.48 398.07 L 144.65 397.90 L 144.82 397.74 L 144.99 397.58 L 145.15 397.42 L 145.32 397.25 L 145.49 397.09 L 145.66 396.93 L 145.82 396.76 L 145.99 396.60 L 146.16 396.43 L 146.32 396.27 L 146.49 396.10 L 146.66 395.94 L 146.82 395.77 L 146.99 395.60 L 147.15 395.44 L 147.32 395.27 L 147.48 395.10 L 147.64 394.93 L 147.81 394.77 L 147.97 394.60 L 148.13 394.43 L 148.29 394.26 L 148.46 394.09 L 148.62 393.92 L 148.78 393.75 L 148.94 393.58 L 149.10 393.40 L 149.26 393.23 L 149.42 393.06 L 149.58 392.89 L 149.74 392.71 L 149.90 392.54 L 150.06 392.37 L 150.21 392.19 L 150.37 392.02 L 150.53 391.84 L 150.68 391.67 L 150.84 391.49 L 151.00 391.31 L 151.15 391.13 L 151.31 390.96 L 151.46 390.78 L 151.62 390.60 L 151.77 390.42 L 151.92 390.24 L 152.08 390.06 L 152.23 389.88 L 152.38 389.70 L 152.53 389.52 L 152.68 389.34 L 152.83 389.16 L 152.98 388.97 L 153.13 388.79 L 153.28 388.61 L 153.43 388.42 L 153.58 388.24 L 153.73 388.05 L 153.88 387.87 L 154.02 387.68 L 154.17 387.49 L 154.31 387.31 L 154.46 387.12 L 154.60 386.93 L 154.75 386.74 L 154.89 386.55 L 155.04 386.36 L 155.18 386.17 L 155.32 385.98 L 155.46 385.79 L 155.61 385.60 L 155.74 385.40 L 153.24 383.58 L 153.10 383.76 L 152.97 383.95 L 152.83 384.13 L 152.70 384.31 L 152.56 384.50 L 152.42 384.68 L 152.28 384.86 L 152.14 385.04 L 152.01 385.22 L 151.87 385.40 L 151.73 385.58 L 151.59 385.76 L 151.44 385.94 L 151.30 386.12 L 151.16 386.30 L 151.02 386.48 L 150.87 386.65 L 150.73 386.83 L 150.59 387.01 L 150.44 387.18 L 150.30 387.36 L 150.15 387.54 L 150.00 387.71 L 149.86 387.88 L 149.71 388.06 L 149.56 388.23 L 149.42 388.40 L 149.27 388.58 L 149.12 388.75 L 148.97 388.92 L 148.82 389.09 L 148.67 389.26 L 148.52 389.44 L 148.37 389.61 L 148.22 389.78 L 148.06 389.95 L 147.91 390.11 L 147.76 390.28 L 147.61 390.45 L 147.45 390.62 L 147.30 390.79 L 147.14 390.95 L 146.99 391.12 L 146.83 391.29 L 146.68 391.45 L 146.52 391.62 L 146.37 391.79 L 146.21 391.95 L 146.05 392.12 L 145.89 392.28 L 145.74 392.45 L 145.58 392.61 L 145.42 392.77 L 145.26 392.94 L 145.10 393.10 L 144.94 393.26 L 144.78 393.42 L 144.62 393.59 L 144.46 393.75 L 144.30 393.91 L 144.14 394.07 L 143.98 394.23 L 143.81 394.39 L 143.65 394.55 L 143.49 394.71 L 143.32 394.87 L 143.16 395.03 L 143.00 395.19 L 142.83 395.35 L 142.67 395.51 L 142.50 395.67 L 142.34 395.82 L 142.17 395.98 L 142.01 396.14 L 141.84 396.30 L 141.67 396.45 L 141.51 396.61 L 141.34 396.77 L 141.17 396.92 L 141.01 397.08 L 140.84 397.23 L 140.67 397.39 L 140.50 397.54 L 140.33 397.70 L 140.16 397.85 L 140.00 398.01 L 139.83 398.16 L 139.66 398.32 L 139.49 398.47 L 139.32 398.62 L 139.15 398.78 L 138.97 398.93 L 138.80 399.08 L 138.63 399.24 L 138.46 399.39 L 138.29 399.54 L 138.12 399.69 L 137.95 399.85 L 137.77 400.00 L 137.60 400.15 L 137.43 400.30 L 137.26 400.45 L 137.08 400.60 L 136.91 400.76 L 136.73 400.91 L 136.56 401.06 L 136.39 401.21 L 136.21 401.36 L 136.04 401.51 L 135.86 401.66 L 135.69 401.81 L 135.51 401.96 L 135.34 402.11 L 135.16 402.26 L 134.99 402.41 L 134.81 402.56 L 134.64 402.70 L 134.46 402.85 L 134.29 403.00 L 134.11 403.15 L 133.93 403.30 L 133.76 403.45 L 133.58 403.60 L 133.40 403.75 L 133.23 403.89 L 133.05 404.04 L 132.87 404.19 L 132.69 404.34 L 132.52 404.49 L 132.34 404.63 L 132.16 404.78 L 131.98 404.93 L 131.81 405.08 L 131.63 405.22 L 131.45 405.37 L 131.27 405.52 L 131.09 405.67 L 130.91 405.81 L 130.74 405.96 L 130.56 406.11 L 130.38 406.25 L 130.20 406.40 L 130.02 406.55 L 129.84 406.69 L 129.66 406.84 L 129.48 406.99 L 129.31 407.13 L 129.13 407.28 L 128.95 407.43 L 128.77 407.58 L 128.59 407.72 L 128.41 407.87 L 128.23 408.02 L 128.05 408.16 L 127.87 408.31 L 127.69 408.46 L 127.51 408.60 L 127.33 408.75 L 127.15 408.90 L 126.97 409.04 L 126.79 409.19 L 126.61 409.34 L 126.43 409.48 L 126.25 409.63 L 126.08 409.78 L 125.90 409.92 L 125.72 410.07 L 125.54 410.22 L 125.36 410.36 L 125.18 410.51 L 125.00 410.66 L 124.82 410.80 L 124.64 410.95 L 124.46 411.10 L 124.28 411.25 L 124.10 411.39 L 123.92 411.54 L 123.74 411.69 L 123.56 411.83 L 123.38 411.98 L 123.20 412.13 L 123.03 412.28 L 122.85 412.43 L 122.67 412.57 L 122.49 412.72 L 122.31 412.87 L 122.13 413.02 L 121.95 413.17 L 121.77 413.31 L 121.60 413.46 L 121.42 413.61 L 121.24 413.76 L 121.06 413.91 L 120.88 414.06 L 120.70 414.21 L 120.53 414.36 L 120.35 414.51 L 120.17 414.66 L 119.99 414.80 Z" fill="#000"/><circle cx="120.99" cy="415.99" r="1.55" fill="#000"/><circle cx="154.49" cy="384.49" r="1.55" fill="#000"/>
<path d="M 110.41 404.90 L 110.90 404.75 L 111.39 404.60 L 111.88 404.45 L 112.37 404.29 L 112.85 404.13 L 113.34 403.97 L 113.82 403.81 L 114.31 403.64 L 114.79 403.47 L 115.27 403.30 L 115.75 403.13 L 116.23 402.96 L 116.71 402.79 L 117.19 402.61 L 117.67 402.43 L 118.14 402.25 L 118.62 402.07 L 119.09 401.88 L 119.56 401.70 L 120.03 401.51 L 120.50 401.32 L 120.98 401.13 L 121.44 400.94 L 121.91 400.74 L 122.38 400.55 L 122.85 400.35 L 123.31 400.15 L 123.78 399.95 L 124.24 399.75 L 124.70 399.54 L 125.17 399.34 L 125.63 399.13 L 126.09 398.92 L 126.55 398.71 L 127.01 398.50 L 127.47 398.29 L 127.92 398.08 L 128.38 397.86 L 128.84 397.64 L 129.29 397.43 L 129.75 397.21 L 130.20 396.99 L 130.66 396.77 L 131.11 396.54 L 131.56 396.32 L 132.01 396.09 L 132.46 395.87 L 132.91 395.64 L 133.36 395.41 L 133.81 395.18 L 134.26 394.95 L 134.71 394.72 L 135.15 394.49 L 135.60 394.26 L 136.05 394.02 L 136.49 393.79 L 136.94 393.55 L 137.38 393.32 L 137.83 393.08 L 138.27 392.84 L 138.71 392.60 L 139.16 392.36 L 139.60 392.12 L 140.04 391.88 L 140.48 391.64 L 140.92 391.39 L 141.36 391.15 L 141.80 390.91 L 142.24 390.66 L 142.68 390.42 L 143.12 390.17 L 143.56 389.92 L 144.00 389.68 L 144.44 389.43 L 144.87 389.18 L 145.31 388.93 L 145.75 388.68 L 146.18 388.43 L 146.62 388.18 L 147.06 387.93 L 147.49 387.68 L 147.93 387.43 L 148.36 387.18 L 148.80 386.93 L 149.23 386.68 L 149.67 386.43 L 150.10 386.18 L 150.54 385.92 L 150.97 385.67 L 151.41 385.42 L 151.84 385.17 L 152.27 384.91 L 152.71 384.66 L 153.14 384.41 L 153.57 384.15 L 154.01 383.90 L 154.44 383.65 L 154.87 383.40 L 155.31 383.14 L 155.74 382.89 L 156.17 382.64 L 156.61 382.39 L 157.04 382.13 L 157.47 381.88 L 157.90 381.63 L 158.34 381.38 L 158.77 381.13 L 159.20 380.87 L 159.64 380.62 L 160.07 380.37 L 160.50 380.12 L 160.93 379.87 L 161.37 379.62 L 161.80 379.37 L 162.24 379.13 L 162.67 378.88 L 163.10 378.63 L 163.54 378.38 L 163.97 378.13 L 164.40 377.89 L 164.84 377.64 L 165.27 377.40 L 165.71 377.15 L 166.14 376.91 L 166.58 376.67 L 167.01 376.42 L 167.45 376.18 L 167.88 375.94 L 168.32 375.70 L 168.76 375.46 L 169.19 375.22 L 169.63 374.98 L 170.07 374.74 L 170.51 374.51 L 170.94 374.27 L 171.38 374.04 L 171.82 373.80 L 172.26 373.57 L 172.70 373.34 L 173.14 373.11 L 173.58 372.88 L 174.02 372.65 L 174.46 372.42 L 174.90 372.19 L 175.34 371.97 L 175.78 371.74 L 176.23 371.52 L 176.67 371.30 L 177.11 371.08 L 177.56 370.86 L 178.00 370.64 L 178.45 370.42 L 178.89 370.20 L 179.34 369.99 L 179.79 369.77 L 180.23 369.56 L 180.68 369.35 L 181.13 369.14 L 181.58 368.93 L 182.03 368.72 L 182.48 368.52 L 182.93 368.31 L 183.38 368.11 L 183.83 367.91 L 184.28 367.71 L 184.74 367.51 L 185.19 367.32 L 185.64 367.12 L 186.10 366.93 L 186.55 366.74 L 187.01 366.55 L 187.47 366.36 L 187.93 366.17 L 188.39 365.99 L 188.84 365.80 L 189.31 365.62 L 189.77 365.44 L 190.23 365.26 L 190.69 365.09 L 191.15 364.91 L 191.62 364.74 L 192.08 364.57 L 192.55 364.40 L 193.02 364.24 L 193.48 364.07 L 193.95 363.91 L 194.42 363.75 L 194.89 363.59 L 195.36 363.43 L 195.83 363.28 L 196.31 363.13 L 196.78 362.97 L 197.26 362.83 L 197.73 362.68 L 198.21 362.54 L 198.69 362.39 L 199.16 362.25 L 199.64 362.12 L 200.13 361.98 L 199.29 359.00 L 198.80 359.13 L 198.30 359.28 L 197.81 359.42 L 197.32 359.57 L 196.83 359.71 L 196.34 359.87 L 195.85 360.02 L 195.36 360.17 L 194.88 360.33 L 194.39 360.49 L 193.91 360.65 L 193.42 360.81 L 192.94 360.98 L 192.46 361.15 L 191.98 361.31 L 191.50 361.49 L 191.02 361.66 L 190.54 361.83 L 190.07 362.01 L 189.59 362.19 L 189.12 362.37 L 188.65 362.55 L 188.17 362.74 L 187.70 362.92 L 187.23 363.11 L 186.76 363.30 L 186.29 363.49 L 185.83 363.68 L 185.36 363.88 L 184.89 364.07 L 184.43 364.27 L 183.96 364.47 L 183.50 364.67 L 183.04 364.87 L 182.57 365.08 L 182.11 365.28 L 181.65 365.49 L 181.19 365.70 L 180.73 365.91 L 180.28 366.12 L 179.82 366.33 L 179.36 366.54 L 178.91 366.76 L 178.45 366.98 L 178.00 367.19 L 177.54 367.41 L 177.09 367.63 L 176.64 367.85 L 176.18 368.08 L 175.73 368.30 L 175.28 368.52 L 174.83 368.75 L 174.38 368.98 L 173.93 369.21 L 173.49 369.44 L 173.04 369.67 L 172.59 369.90 L 172.15 370.13 L 171.70 370.36 L 171.25 370.60 L 170.81 370.83 L 170.36 371.07 L 169.92 371.30 L 169.48 371.54 L 169.03 371.78 L 168.59 372.02 L 168.15 372.26 L 167.71 372.50 L 167.27 372.74 L 166.83 372.98 L 166.39 373.23 L 165.95 373.47 L 165.51 373.71 L 165.07 373.96 L 164.63 374.20 L 164.19 374.45 L 163.75 374.70 L 163.31 374.94 L 162.88 375.19 L 162.44 375.44 L 162.00 375.69 L 161.57 375.94 L 161.13 376.19 L 160.69 376.44 L 160.26 376.69 L 159.82 376.94 L 159.39 377.19 L 158.95 377.44 L 158.52 377.69 L 158.08 377.94 L 157.65 378.19 L 157.21 378.44 L 156.78 378.70 L 156.35 378.95 L 155.91 379.20 L 155.48 379.45 L 155.04 379.71 L 154.61 379.96 L 154.18 380.21 L 153.74 380.47 L 153.31 380.72 L 152.88 380.97 L 152.44 381.22 L 152.01 381.48 L 151.58 381.73 L 151.15 381.98 L 150.71 382.23 L 150.28 382.49 L 149.85 382.74 L 149.41 382.99 L 148.98 383.24 L 148.55 383.49 L 148.11 383.75 L 147.68 384.00 L 147.25 384.25 L 146.81 384.50 L 146.38 384.75 L 145.95 385.00 L 145.51 385.25 L 145.08 385.49 L 144.65 385.74 L 144.21 385.99 L 143.78 386.24 L 143.34 386.48 L 142.91 386.73 L 142.47 386.98 L 142.04 387.22 L 141.60 387.47 L 141.17 387.71 L 140.73 387.95 L 140.30 388.20 L 139.86 388.44 L 139.43 388.68 L 138.99 388.92 L 138.55 389.16 L 138.11 389.40 L 137.68 389.64 L 137.24 389.87 L 136.80 390.11 L 136.36 390.35 L 135.92 390.58 L 135.48 390.82 L 135.04 391.05 L 134.60 391.28 L 134.16 391.51 L 133.72 391.74 L 133.28 391.97 L 132.84 392.20 L 132.40 392.43 L 131.96 392.65 L 131.51 392.88 L 131.07 393.10 L 130.63 393.32 L 130.18 393.54 L 129.74 393.76 L 129.29 393.98 L 128.85 394.20 L 128.40 394.42 L 127.95 394.63 L 127.50 394.84 L 127.06 395.06 L 126.61 395.27 L 126.16 395.48 L 125.71 395.69 L 125.26 395.89 L 124.81 396.10 L 124.36 396.30 L 123.90 396.51 L 123.45 396.71 L 123.00 396.91 L 122.54 397.10 L 122.09 397.30 L 121.63 397.50 L 121.18 397.69 L 120.72 397.88 L 120.26 398.07 L 119.80 398.26 L 119.34 398.45 L 118.88 398.63 L 118.42 398.81 L 117.96 399.00 L 117.50 399.18 L 117.04 399.35 L 116.57 399.53 L 116.11 399.70 L 115.64 399.88 L 115.17 400.05 L 114.71 400.21 L 114.24 400.38 L 113.77 400.55 L 113.30 400.71 L 112.83 400.87 L 112.36 401.03 L 111.88 401.18 L 111.41 401.34 L 110.94 401.49 L 110.46 401.64 L 109.98 401.79 L 109.50 401.94 Z" fill="#000"/><circle cx="109.96" cy="403.42" r="1.55" fill="#000"/><circle cx="199.71" cy="360.49" r="1.55" fill="#000"/>
<path d="M 180.18 365.97 L 180.28 365.93 L 180.37 365.89 L 180.46 365.86 L 180.56 365.82 L 180.65 365.78 L 180.75 365.75 L 180.84 365.71 L 180.94 365.67 L 181.03 365.64 L 181.12 365.60 L 181.22 365.56 L 181.31 365.53 L 181.41 365.49 L 181.50 365.45 L 181.60 365.42 L 181.69 365.38 L 181.79 365.35 L 181.88 365.31 L 181.97 365.27 L 182.07 365.24 L 182.16 365.20 L 182.26 365.17 L 182.35 365.13 L 182.45 365.09 L 182.54 365.06 L 182.64 365.02 L 182.73 364.99 L 182.82 364.95 L 182.92 364.91 L 183.01 364.88 L 183.11 364.84 L 183.20 364.81 L 183.30 364.77 L 183.39 364.74 L 183.49 364.70 L 183.58 364.66 L 183.68 364.63 L 183.77 364.59 L 183.86 364.56 L 183.96 364.52 L 184.05 364.49 L 184.15 364.45 L 184.24 364.42 L 184.34 364.38 L 184.43 364.34 L 184.53 364.31 L 184.62 364.27 L 184.72 364.24 L 184.81 364.20 L 184.91 364.17 L 185.00 364.13 L 185.10 364.10 L 185.19 364.06 L 185.29 364.03 L 185.38 363.99 L 185.48 363.96 L 185.57 363.92 L 185.67 363.89 L 185.76 363.85 L 185.86 363.82 L 185.95 363.78 L 186.04 363.75 L 186.14 363.71 L 186.23 363.68 L 186.33 363.64 L 186.42 363.61 L 186.52 363.58 L 186.61 363.54 L 186.71 363.51 L 186.80 363.47 L 186.90 363.44 L 186.99 363.40 L 187.09 363.37 L 187.18 363.33 L 187.28 363.30 L 187.37 363.27 L 187.47 363.23 L 187.56 363.20 L 187.66 363.16 L 187.76 363.13 L 187.85 363.09 L 187.95 363.06 L 188.04 363.03 L 188.14 362.99 L 188.23 362.96 L 188.33 362.92 L 188.42 362.89 L 188.52 362.86 L 188.61 362.82 L 188.71 362.79 L 188.80 362.75 L 188.90 362.72 L 188.99 362.69 L 189.09 362.65 L 189.18 362.62 L 189.28 362.58 L 189.37 362.55 L 189.47 362.52 L 189.56 362.48 L 189.66 362.45 L 189.75 362.42 L 189.85 362.38 L 189.95 362.35 L 190.04 362.32 L 190.14 362.28 L 190.23 362.25 L 190.33 362.22 L 190.42 362.18 L 190.52 362.15 L 190.61 362.12 L 190.71 362.08 L 190.80 362.05 L 190.90 362.02 L 191.00 361.98 L 191.09 361.95 L 191.19 361.92 L 191.28 361.88 L 191.38 361.85 L 191.47 361.82 L 191.57 361.78 L 191.66 361.75 L 191.76 361.72 L 191.85 361.69 L 191.95 361.65 L 192.05 361.62 L 192.14 361.59 L 192.24 361.55 L 192.33 361.52 L 192.43 361.49 L 192.52 361.46 L 192.62 361.42 L 192.72 361.39 L 192.81 361.36 L 192.91 361.33 L 193.00 361.29 L 193.10 361.26 L 193.19 361.23 L 193.29 361.20 L 193.39 361.16 L 193.48 361.13 L 193.58 361.10 L 193.67 361.07 L 193.77 361.03 L 193.86 361.00 L 193.96 360.97 L 194.06 360.94 L 194.15 360.91 L 194.25 360.87 L 194.34 360.84 L 194.44 360.81 L 194.54 360.78 L 194.63 360.74 L 194.73 360.71 L 194.82 360.68 L 194.92 360.65 L 195.02 360.62 L 195.11 360.59 L 195.21 360.55 L 195.30 360.52 L 195.40 360.49 L 195.49 360.46 L 195.59 360.43 L 195.69 360.40 L 195.78 360.36 L 195.88 360.33 L 195.98 360.30 L 196.07 360.27 L 196.17 360.24 L 196.26 360.21 L 196.36 360.17 L 196.46 360.14 L 196.55 360.11 L 196.65 360.08 L 196.74 360.05 L 196.84 360.02 L 196.94 359.99 L 197.03 359.96 L 197.13 359.92 L 197.22 359.89 L 197.32 359.86 L 197.42 359.83 L 197.51 359.80 L 197.61 359.77 L 197.71 359.74 L 197.80 359.71 L 197.90 359.68 L 197.99 359.64 L 198.09 359.61 L 198.19 359.58 L 198.28 359.55 L 198.38 359.52 L 198.48 359.49 L 198.57 359.46 L 198.67 359.43 L 198.77 359.40 L 198.86 359.37 L 198.96 359.34 L 199.05 359.31 L 199.15 359.28 L 198.85 358.32 L 198.75 358.35 L 198.66 358.38 L 198.56 358.42 L 198.46 358.45 L 198.37 358.48 L 198.27 358.51 L 198.17 358.54 L 198.08 358.57 L 197.98 358.60 L 197.88 358.63 L 197.79 358.66 L 197.69 358.69 L 197.59 358.72 L 197.50 358.75 L 197.40 358.79 L 197.30 358.82 L 197.21 358.85 L 197.11 358.88 L 197.01 358.91 L 196.92 358.94 L 196.82 358.97 L 196.72 359.00 L 196.63 359.04 L 196.53 359.07 L 196.43 359.10 L 196.34 359.13 L 196.24 359.16 L 196.15 359.19 L 196.05 359.22 L 195.95 359.26 L 195.86 359.29 L 195.76 359.32 L 195.66 359.35 L 195.57 359.38 L 195.47 359.41 L 195.37 359.45 L 195.28 359.48 L 195.18 359.51 L 195.09 359.54 L 194.99 359.57 L 194.89 359.60 L 194.80 359.64 L 194.70 359.67 L 194.60 359.70 L 194.51 359.73 L 194.41 359.76 L 194.32 359.80 L 194.22 359.83 L 194.12 359.86 L 194.03 359.89 L 193.93 359.92 L 193.83 359.96 L 193.74 359.99 L 193.64 360.02 L 193.55 360.05 L 193.45 360.09 L 193.35 360.12 L 193.26 360.15 L 193.16 360.18 L 193.07 360.22 L 192.97 360.25 L 192.87 360.28 L 192.78 360.31 L 192.68 360.35 L 192.59 360.38 L 192.49 360.41 L 192.39 360.44 L 192.30 360.48 L 192.20 360.51 L 192.11 360.54 L 192.01 360.58 L 191.91 360.61 L 191.82 360.64 L 191.72 360.67 L 191.63 360.71 L 191.53 360.74 L 191.43 360.77 L 191.34 360.81 L 191.24 360.84 L 191.15 360.87 L 191.05 360.90 L 190.95 360.94 L 190.86 360.97 L 190.76 361.00 L 190.67 361.04 L 190.57 361.07 L 190.48 361.10 L 190.38 361.14 L 190.28 361.17 L 190.19 361.20 L 190.09 361.24 L 190.00 361.27 L 189.90 361.30 L 189.81 361.34 L 189.71 361.37 L 189.61 361.41 L 189.52 361.44 L 189.42 361.47 L 189.33 361.51 L 189.23 361.54 L 189.14 361.57 L 189.04 361.61 L 188.94 361.64 L 188.85 361.68 L 188.75 361.71 L 188.66 361.74 L 188.56 361.78 L 188.47 361.81 L 188.37 361.85 L 188.28 361.88 L 188.18 361.91 L 188.08 361.95 L 187.99 361.98 L 187.89 362.02 L 187.80 362.05 L 187.70 362.08 L 187.61 362.12 L 187.51 362.15 L 187.42 362.19 L 187.32 362.22 L 187.23 362.26 L 187.13 362.29 L 187.03 362.32 L 186.94 362.36 L 186.84 362.39 L 186.75 362.43 L 186.65 362.46 L 186.56 362.50 L 186.46 362.53 L 186.37 362.57 L 186.27 362.60 L 186.18 362.64 L 186.08 362.67 L 185.99 362.71 L 185.89 362.74 L 185.80 362.78 L 185.70 362.81 L 185.61 362.84 L 185.51 362.88 L 185.42 362.91 L 185.32 362.95 L 185.22 362.98 L 185.13 363.02 L 185.03 363.06 L 184.94 363.09 L 184.84 363.13 L 184.75 363.16 L 184.65 363.20 L 184.56 363.23 L 184.46 363.27 L 184.37 363.30 L 184.27 363.34 L 184.18 363.37 L 184.08 363.41 L 183.99 363.44 L 183.89 363.48 L 183.80 363.51 L 183.70 363.55 L 183.61 363.59 L 183.51 363.62 L 183.42 363.66 L 183.32 363.69 L 183.23 363.73 L 183.13 363.76 L 183.04 363.80 L 182.94 363.84 L 182.85 363.87 L 182.75 363.91 L 182.66 363.94 L 182.56 363.98 L 182.47 364.01 L 182.37 364.05 L 182.28 364.09 L 182.19 364.12 L 182.09 364.16 L 182.00 364.20 L 181.90 364.23 L 181.81 364.27 L 181.71 364.30 L 181.62 364.34 L 181.52 364.38 L 181.43 364.41 L 181.33 364.45 L 181.24 364.48 L 181.14 364.52 L 181.05 364.56 L 180.95 364.59 L 180.86 364.63 L 180.76 364.67 L 180.67 364.70 L 180.58 364.74 L 180.48 364.78 L 180.39 364.81 L 180.29 364.85 L 180.20 364.89 L 180.10 364.92 L 180.01 364.96 L 179.91 365.00 L 179.82 365.03 Z" fill="#000"/><circle cx="180.00" cy="365.50" r="0.50" fill="#000"/><circle cx="199.00" cy="358.80" r="0.50" fill="#000"/>
<path d="M 103.69 380.17 L 103.95 380.22 L 104.21 380.27 L 104.47 380.31 L 104.73 380.36 L 104.98 380.41 L 105.24 380.46 L 105.50 380.50 L 105.76 380.55 L 106.02 380.60 L 106.28 380.64 L 106.54 380.69 L 106.80 380.74 L 107.06 380.78 L 107.32 380.83 L 107.58 380.87 L 107.84 380.91 L 108.10 380.96 L 108.36 381.00 L 108.62 381.04 L 108.88 381.09 L 109.14 381.13 L 109.41 381.17 L 109.67 381.21 L 109.93 381.25 L 110.19 381.29 L 110.45 381.33 L 110.71 381.38 L 110.97 381.42 L 111.23 381.45 L 111.50 381.49 L 111.76 381.53 L 112.02 381.57 L 112.28 381.61 L 112.54 381.65 L 112.80 381.68 L 113.07 381.72 L 113.33 381.76 L 113.59 381.79 L 113.85 381.83 L 114.12 381.87 L 114.38 381.90 L 114.64 381.94 L 114.90 381.97 L 115.17 382.01 L 115.43 382.04 L 115.69 382.07 L 115.95 382.11 L 116.22 382.14 L 116.48 382.17 L 116.74 382.20 L 117.01 382.24 L 117.27 382.27 L 117.53 382.30 L 117.80 382.33 L 118.06 382.36 L 118.32 382.39 L 118.59 382.42 L 118.85 382.45 L 119.11 382.48 L 119.38 382.51 L 119.64 382.53 L 119.90 382.56 L 120.17 382.59 L 120.43 382.62 L 120.70 382.64 L 120.96 382.67 L 121.22 382.69 L 121.49 382.72 L 121.75 382.75 L 122.02 382.77 L 122.28 382.80 L 122.54 382.82 L 122.81 382.84 L 123.07 382.87 L 123.34 382.89 L 123.60 382.91 L 123.87 382.93 L 124.13 382.96 L 124.40 382.98 L 124.66 383.00 L 124.92 383.02 L 125.19 383.04 L 125.45 383.06 L 125.72 383.08 L 125.98 383.10 L 126.25 383.12 L 126.51 383.14 L 126.78 383.16 L 127.04 383.17 L 127.31 383.19 L 127.57 383.21 L 127.84 383.23 L 128.10 383.24 L 128.37 383.26 L 128.63 383.27 L 128.90 383.29 L 129.16 383.30 L 129.43 383.32 L 129.69 383.33 L 129.96 383.35 L 130.22 383.36 L 130.49 383.37 L 130.75 383.38 L 131.02 383.40 L 131.29 383.41 L 131.55 383.42 L 131.82 383.43 L 132.08 383.44 L 132.35 383.45 L 132.61 383.46 L 132.88 383.47 L 133.14 383.48 L 133.41 383.49 L 133.67 383.50 L 133.94 383.51 L 134.20 383.51 L 134.47 383.52 L 134.73 383.53 L 135.00 383.53 L 135.27 383.54 L 135.53 383.55 L 135.80 383.55 L 136.06 383.56 L 136.33 383.56 L 136.59 383.57 L 136.86 383.57 L 137.12 383.57 L 137.39 383.58 L 137.65 383.58 L 137.92 383.58 L 138.19 383.58 L 138.45 383.58 L 138.72 383.59 L 138.98 383.59 L 139.25 383.59 L 139.51 383.59 L 139.78 383.59 L 140.04 383.58 L 140.31 383.58 L 140.57 383.58 L 140.84 383.58 L 141.10 383.58 L 141.37 383.57 L 141.63 383.57 L 141.90 383.57 L 142.16 383.56 L 142.43 383.56 L 142.69 383.55 L 142.96 383.55 L 143.22 383.54 L 143.49 383.54 L 143.75 383.53 L 144.02 383.52 L 144.28 383.52 L 144.55 383.51 L 144.81 383.50 L 145.08 383.49 L 145.34 383.48 L 145.61 383.47 L 145.87 383.46 L 146.14 383.45 L 146.40 383.44 L 146.67 383.43 L 146.93 383.42 L 147.20 383.41 L 147.46 383.40 L 147.73 383.39 L 147.99 383.37 L 148.25 383.36 L 148.52 383.35 L 148.78 383.33 L 149.05 383.32 L 149.31 383.30 L 149.58 383.29 L 149.84 383.27 L 150.10 383.26 L 150.37 383.24 L 150.63 383.22 L 150.90 383.20 L 151.16 383.19 L 151.42 383.17 L 151.69 383.15 L 151.95 383.13 L 152.21 383.11 L 152.48 383.09 L 152.74 383.07 L 153.01 383.05 L 153.27 383.03 L 153.53 383.01 L 153.80 382.99 L 154.06 382.96 L 154.32 382.94 L 154.59 382.92 L 154.85 382.89 L 155.11 382.87 L 155.37 382.85 L 155.64 382.82 L 155.90 382.80 L 156.16 382.77 L 155.84 379.49 L 155.58 379.51 L 155.32 379.54 L 155.07 379.56 L 154.81 379.58 L 154.55 379.61 L 154.29 379.63 L 154.04 379.65 L 153.78 379.68 L 153.52 379.70 L 153.26 379.72 L 153.00 379.74 L 152.75 379.76 L 152.49 379.78 L 152.23 379.80 L 151.97 379.82 L 151.71 379.84 L 151.45 379.86 L 151.19 379.88 L 150.94 379.89 L 150.68 379.91 L 150.42 379.93 L 150.16 379.95 L 149.90 379.96 L 149.64 379.98 L 149.38 379.99 L 149.12 380.01 L 148.86 380.02 L 148.61 380.04 L 148.35 380.05 L 148.09 380.06 L 147.83 380.08 L 147.57 380.09 L 147.31 380.10 L 147.05 380.11 L 146.79 380.13 L 146.53 380.14 L 146.27 380.15 L 146.01 380.16 L 145.75 380.17 L 145.49 380.18 L 145.23 380.19 L 144.97 380.19 L 144.71 380.20 L 144.45 380.21 L 144.19 380.22 L 143.93 380.23 L 143.67 380.23 L 143.41 380.24 L 143.15 380.24 L 142.89 380.25 L 142.63 380.25 L 142.37 380.26 L 142.11 380.26 L 141.85 380.27 L 141.59 380.27 L 141.33 380.27 L 141.07 380.28 L 140.81 380.28 L 140.55 380.28 L 140.29 380.28 L 140.03 380.28 L 139.77 380.29 L 139.51 380.29 L 139.25 380.29 L 138.99 380.29 L 138.73 380.29 L 138.47 380.28 L 138.21 380.28 L 137.95 380.28 L 137.68 380.28 L 137.42 380.28 L 137.16 380.27 L 136.90 380.27 L 136.64 380.27 L 136.38 380.26 L 136.12 380.26 L 135.86 380.25 L 135.60 380.25 L 135.34 380.24 L 135.08 380.24 L 134.82 380.23 L 134.56 380.22 L 134.30 380.22 L 134.04 380.21 L 133.78 380.20 L 133.51 380.19 L 133.25 380.18 L 132.99 380.17 L 132.73 380.16 L 132.47 380.15 L 132.21 380.14 L 131.95 380.13 L 131.69 380.12 L 131.43 380.11 L 131.17 380.10 L 130.91 380.09 L 130.65 380.08 L 130.39 380.06 L 130.13 380.05 L 129.87 380.04 L 129.61 380.02 L 129.35 380.01 L 129.09 379.99 L 128.83 379.98 L 128.56 379.96 L 128.30 379.95 L 128.04 379.93 L 127.78 379.92 L 127.52 379.90 L 127.26 379.88 L 127.00 379.86 L 126.74 379.85 L 126.48 379.83 L 126.22 379.81 L 125.96 379.79 L 125.70 379.77 L 125.44 379.75 L 125.18 379.73 L 124.92 379.71 L 124.66 379.69 L 124.40 379.67 L 124.14 379.65 L 123.88 379.62 L 123.62 379.60 L 123.36 379.58 L 123.10 379.56 L 122.84 379.53 L 122.58 379.51 L 122.32 379.48 L 122.06 379.46 L 121.80 379.44 L 121.54 379.41 L 121.29 379.38 L 121.03 379.36 L 120.77 379.33 L 120.51 379.31 L 120.25 379.28 L 119.99 379.25 L 119.73 379.22 L 119.47 379.20 L 119.21 379.17 L 118.95 379.14 L 118.69 379.11 L 118.43 379.08 L 118.18 379.05 L 117.92 379.02 L 117.66 378.99 L 117.40 378.96 L 117.14 378.93 L 116.88 378.90 L 116.62 378.86 L 116.36 378.83 L 116.11 378.80 L 115.85 378.77 L 115.59 378.73 L 115.33 378.70 L 115.07 378.67 L 114.82 378.63 L 114.56 378.60 L 114.30 378.56 L 114.04 378.53 L 113.78 378.49 L 113.53 378.45 L 113.27 378.42 L 113.01 378.38 L 112.75 378.34 L 112.50 378.31 L 112.24 378.27 L 111.98 378.23 L 111.73 378.19 L 111.47 378.15 L 111.21 378.11 L 110.95 378.07 L 110.70 378.03 L 110.44 377.99 L 110.18 377.95 L 109.93 377.91 L 109.67 377.87 L 109.41 377.83 L 109.16 377.79 L 108.90 377.74 L 108.65 377.70 L 108.39 377.66 L 108.13 377.62 L 107.88 377.57 L 107.62 377.53 L 107.37 377.48 L 107.11 377.44 L 106.86 377.39 L 106.60 377.35 L 106.35 377.30 L 106.09 377.26 L 105.84 377.21 L 105.58 377.16 L 105.33 377.12 L 105.07 377.07 L 104.82 377.02 L 104.56 376.97 L 104.31 376.93 Z" fill="#000"/><circle cx="104.00" cy="378.55" r="1.65" fill="#000"/><circle cx="156.00" cy="381.13" r="1.65" fill="#000"/>
<path d="M 102.92 364.01 L 103.27 364.04 L 103.61 364.07 L 103.96 364.11 L 104.30 364.14 L 104.65 364.17 L 105.00 364.21 L 105.35 364.24 L 105.70 364.28 L 106.05 364.32 L 106.40 364.35 L 106.75 364.39 L 107.10 364.43 L 107.45 364.47 L 107.80 364.52 L 108.15 364.56 L 108.51 364.60 L 108.86 364.64 L 109.21 364.69 L 109.57 364.73 L 109.92 364.78 L 110.28 364.83 L 110.63 364.87 L 110.99 364.92 L 111.35 364.97 L 111.70 365.02 L 112.06 365.07 L 112.42 365.12 L 112.78 365.17 L 113.14 365.22 L 113.49 365.27 L 113.85 365.33 L 114.21 365.38 L 114.57 365.43 L 114.93 365.49 L 115.29 365.54 L 115.66 365.59 L 116.02 365.65 L 116.38 365.70 L 116.74 365.76 L 117.10 365.81 L 117.47 365.87 L 117.83 365.93 L 118.19 365.98 L 118.56 366.04 L 118.92 366.09 L 119.29 366.15 L 119.65 366.21 L 120.02 366.26 L 120.38 366.32 L 120.75 366.38 L 121.11 366.44 L 121.48 366.49 L 121.84 366.55 L 122.21 366.61 L 122.58 366.66 L 122.94 366.72 L 123.31 366.78 L 123.68 366.83 L 124.05 366.89 L 124.42 366.95 L 124.78 367.00 L 125.15 367.06 L 125.52 367.11 L 125.89 367.17 L 126.26 367.22 L 126.63 367.28 L 127.00 367.33 L 127.37 367.39 L 127.74 367.44 L 128.10 367.50 L 128.47 367.55 L 128.84 367.60 L 129.22 367.65 L 129.59 367.70 L 129.96 367.76 L 130.33 367.81 L 130.70 367.86 L 131.07 367.91 L 131.44 367.96 L 131.81 368.00 L 132.18 368.05 L 132.55 368.10 L 132.92 368.15 L 133.30 368.19 L 133.67 368.24 L 134.04 368.28 L 134.41 368.33 L 134.78 368.37 L 135.15 368.41 L 135.52 368.45 L 135.90 368.49 L 136.27 368.53 L 136.64 368.57 L 137.01 368.61 L 137.38 368.65 L 137.76 368.68 L 138.13 368.72 L 138.50 368.75 L 138.87 368.78 L 139.24 368.82 L 139.62 368.85 L 139.99 368.88 L 140.36 368.90 L 140.73 368.93 L 141.10 368.96 L 141.48 368.98 L 141.85 369.01 L 142.22 369.03 L 142.59 369.05 L 142.96 369.07 L 143.33 369.09 L 143.71 369.11 L 144.08 369.13 L 144.45 369.14 L 144.82 369.16 L 145.19 369.17 L 145.56 369.18 L 145.93 369.19 L 146.30 369.20 L 146.68 369.20 L 147.05 369.21 L 147.42 369.21 L 147.79 369.21 L 148.16 369.21 L 148.53 369.21 L 148.90 369.21 L 149.27 369.21 L 149.64 369.20 L 150.01 369.19 L 150.38 369.18 L 150.75 369.17 L 151.12 369.16 L 151.48 369.14 L 151.85 369.13 L 152.22 369.11 L 152.59 369.09 L 152.96 369.07 L 153.33 369.04 L 153.69 369.02 L 154.06 368.99 L 154.43 368.96 L 154.80 368.93 L 155.16 368.89 L 155.53 368.86 L 155.89 368.82 L 156.26 368.78 L 156.63 368.74 L 156.99 368.69 L 157.36 368.65 L 157.72 368.60 L 158.09 368.55 L 158.45 368.49 L 158.82 368.44 L 159.18 368.38 L 159.54 368.32 L 159.91 368.26 L 160.27 368.20 L 160.63 368.13 L 160.99 368.06 L 161.35 367.99 L 161.72 367.92 L 162.08 367.84 L 162.44 367.76 L 162.80 367.68 L 163.16 367.60 L 163.52 367.51 L 163.88 367.42 L 164.23 367.33 L 164.59 367.23 L 164.95 367.14 L 165.31 367.04 L 165.66 366.94 L 166.02 366.83 L 166.38 366.72 L 166.73 366.61 L 167.09 366.50 L 167.44 366.39 L 167.80 366.27 L 168.15 366.15 L 168.50 366.02 L 168.86 365.90 L 169.21 365.77 L 169.56 365.63 L 169.91 365.50 L 170.26 365.36 L 170.61 365.22 L 170.96 365.07 L 171.31 364.92 L 171.66 364.77 L 172.00 364.62 L 172.35 364.46 L 172.70 364.30 L 173.04 364.14 L 173.39 363.97 L 173.73 363.80 L 174.08 363.63 L 174.42 363.45 L 174.76 363.28 L 175.10 363.10 L 173.73 360.54 L 173.41 360.71 L 173.09 360.88 L 172.76 361.04 L 172.44 361.21 L 172.12 361.37 L 171.79 361.52 L 171.47 361.67 L 171.15 361.82 L 170.82 361.97 L 170.49 362.12 L 170.17 362.26 L 169.84 362.40 L 169.51 362.53 L 169.18 362.67 L 168.85 362.80 L 168.52 362.92 L 168.19 363.05 L 167.86 363.17 L 167.53 363.29 L 167.20 363.41 L 166.87 363.52 L 166.53 363.63 L 166.20 363.74 L 165.86 363.85 L 165.53 363.95 L 165.19 364.05 L 164.86 364.15 L 164.52 364.25 L 164.18 364.34 L 163.85 364.43 L 163.51 364.52 L 163.17 364.61 L 162.83 364.69 L 162.49 364.77 L 162.15 364.85 L 161.81 364.93 L 161.47 365.00 L 161.13 365.08 L 160.78 365.15 L 160.44 365.21 L 160.10 365.28 L 159.75 365.34 L 159.41 365.40 L 159.06 365.46 L 158.72 365.52 L 158.37 365.57 L 158.03 365.63 L 157.68 365.68 L 157.33 365.72 L 156.98 365.77 L 156.64 365.81 L 156.29 365.86 L 155.94 365.90 L 155.59 365.94 L 155.24 365.97 L 154.89 366.01 L 154.54 366.04 L 154.19 366.07 L 153.83 366.10 L 153.48 366.12 L 153.13 366.15 L 152.78 366.17 L 152.42 366.19 L 152.07 366.21 L 151.72 366.23 L 151.36 366.25 L 151.01 366.26 L 150.65 366.27 L 150.30 366.28 L 149.94 366.29 L 149.58 366.30 L 149.23 366.31 L 148.87 366.31 L 148.51 366.31 L 148.16 366.31 L 147.80 366.31 L 147.44 366.31 L 147.08 366.31 L 146.72 366.30 L 146.36 366.30 L 146.00 366.29 L 145.64 366.28 L 145.28 366.27 L 144.92 366.26 L 144.56 366.24 L 144.20 366.23 L 143.84 366.21 L 143.48 366.20 L 143.12 366.18 L 142.76 366.16 L 142.39 366.14 L 142.03 366.11 L 141.67 366.09 L 141.31 366.07 L 140.94 366.04 L 140.58 366.01 L 140.22 365.98 L 139.85 365.96 L 139.49 365.93 L 139.12 365.89 L 138.76 365.86 L 138.40 365.83 L 138.03 365.79 L 137.67 365.76 L 137.30 365.72 L 136.94 365.69 L 136.57 365.65 L 136.21 365.61 L 135.84 365.57 L 135.48 365.53 L 135.11 365.49 L 134.75 365.44 L 134.38 365.40 L 134.01 365.36 L 133.65 365.31 L 133.28 365.27 L 132.92 365.22 L 132.55 365.18 L 132.18 365.13 L 131.82 365.08 L 131.45 365.03 L 131.08 364.98 L 130.72 364.93 L 130.35 364.88 L 129.98 364.83 L 129.62 364.78 L 129.25 364.73 L 128.88 364.68 L 128.52 364.62 L 128.15 364.57 L 127.79 364.52 L 127.42 364.46 L 127.05 364.41 L 126.69 364.36 L 126.32 364.30 L 125.95 364.25 L 125.59 364.19 L 125.22 364.14 L 124.85 364.08 L 124.49 364.02 L 124.12 363.97 L 123.75 363.91 L 123.39 363.85 L 123.02 363.80 L 122.66 363.74 L 122.29 363.68 L 121.92 363.63 L 121.56 363.57 L 121.19 363.51 L 120.83 363.46 L 120.46 363.40 L 120.10 363.34 L 119.73 363.29 L 119.37 363.23 L 119.00 363.17 L 118.64 363.12 L 118.27 363.06 L 117.91 363.00 L 117.54 362.95 L 117.18 362.89 L 116.82 362.84 L 116.45 362.78 L 116.09 362.73 L 115.72 362.67 L 115.36 362.62 L 115.00 362.56 L 114.64 362.51 L 114.27 362.46 L 113.91 362.40 L 113.55 362.35 L 113.19 362.30 L 112.82 362.25 L 112.46 362.20 L 112.10 362.15 L 111.74 362.10 L 111.38 362.05 L 111.02 362.00 L 110.66 361.95 L 110.30 361.90 L 109.94 361.86 L 109.58 361.81 L 109.22 361.77 L 108.86 361.72 L 108.50 361.68 L 108.14 361.64 L 107.79 361.59 L 107.43 361.55 L 107.07 361.51 L 106.71 361.47 L 106.36 361.43 L 106.00 361.39 L 105.64 361.36 L 105.29 361.32 L 104.93 361.29 L 104.58 361.25 L 104.22 361.22 L 103.87 361.19 L 103.52 361.16 L 103.16 361.13 Z" fill="#000"/><circle cx="103.04" cy="362.57" r="1.45" fill="#000"/><circle cx="174.42" cy="361.82" r="1.45" fill="#000"/>
<ellipse cx="101.00" cy="370.20" rx="4.20" ry="6.80" transform="rotate(0.0 101.00 370.20)" stroke="#000" stroke-width="3.2" fill="#fff"/>
<ellipse cx="101.80" cy="370.40" rx="1.76" ry="4.08" transform="rotate(0.0 101.80 370.40)" stroke="#000" stroke-width="1.1" fill="#fff"/>
<polygon points="71.57,372.20 101.92,373.44 102.18,367.05 71.83,365.80" fill="#fff"/>
<path d="M 71.57 372.20 L 101.92 373.44" stroke="#000" stroke-width="1.4" fill="none" stroke-linecap="butt" stroke-linejoin="round" />
<path d="M 71.83 365.80 L 102.18 367.05" stroke="#000" stroke-width="1.6" fill="none" stroke-linecap="butt" stroke-linejoin="round" />
<ellipse cx="71.70" cy="369.00" rx="2.30" ry="3.10" transform="rotate(2.3 71.70 369.00)" stroke="#000" stroke-width="1.6" fill="#fff"/>
<ellipse cx="112.00" cy="412.30" rx="5.20" ry="6.60" transform="rotate(-15.0 112.00 412.30)" stroke="#000" stroke-width="3.2" fill="#fff"/>
<ellipse cx="112.80" cy="412.50" rx="2.18" ry="3.96" transform="rotate(-15.0 112.80 412.50)" stroke="#000" stroke-width="1.1" fill="#fff"/>
<polygon points="86.34,426.37 114.33,414.46 112.06,409.12 84.06,421.03" fill="#fff"/>
<path d="M 86.34 426.37 L 114.33 414.46" stroke="#000" stroke-width="1.4" fill="none" stroke-linecap="butt" stroke-linejoin="round" />
<path d="M 84.06 421.03 L 112.06 409.12" stroke="#000" stroke-width="1.6" fill="none" stroke-linecap="butt" stroke-linejoin="round" />
<ellipse cx="85.20" cy="423.70" rx="2.30" ry="3.10" transform="rotate(-23.0 85.20 423.70)" stroke="#000" stroke-width="1.6" fill="#fff"/>
<ellipse cx="126.80" cy="422.20" rx="4.80" ry="5.90" transform="rotate(-25.0 126.80 422.20)" stroke="#000" stroke-width="3.2" fill="#fff"/>
<ellipse cx="127.60" cy="422.40" rx="2.02" ry="3.54" transform="rotate(-25.0 127.60 422.40)" stroke="#000" stroke-width="1.1" fill="#fff"/>
<polygon points="108.47,443.13 129.65,423.51 125.71,419.26 104.53,438.87" fill="#fff"/>
<path d="M 108.47 443.13 L 129.65 423.51" stroke="#000" stroke-width="1.4" fill="none" stroke-linecap="butt" stroke-linejoin="round" />
<path d="M 104.53 438.87 L 125.71 419.26" stroke="#000" stroke-width="1.6" fill="none" stroke-linecap="butt" stroke-linejoin="round" />
<ellipse cx="106.50" cy="441.00" rx="2.30" ry="3.10" transform="rotate(-42.8 106.50 441.00)" stroke="#000" stroke-width="1.6" fill="#fff"/>
<ellipse cx="126.20" cy="441.00" rx="4.60" ry="6.10" transform="rotate(-15.0 126.20 441.00)" stroke="#000" stroke-width="3.2" fill="#fff"/>
<ellipse cx="127.00" cy="441.20" rx="1.93" ry="3.66" transform="rotate(-15.0 127.00 441.20)" stroke="#000" stroke-width="1.1" fill="#fff"/>
<polygon points="100.21,456.14 128.46,443.15 126.03,437.88 97.79,450.86" fill="#fff"/>
<path d="M 100.21 456.14 L 128.46 443.15" stroke="#000" stroke-width="1.4" fill="none" stroke-linecap="butt" stroke-linejoin="round" />
<path d="M 97.79 450.86 L 126.03 437.88" stroke="#000" stroke-width="1.6" fill="none" stroke-linecap="butt" stroke-linejoin="round" />
<ellipse cx="99.00" cy="453.50" rx="2.30" ry="3.10" transform="rotate(-24.7 99.00 453.50)" stroke="#000" stroke-width="1.6" fill="#fff"/>
<polyline points="72.3,226.0 72.3,366.0" stroke="#000" stroke-width="2.1" fill="none" stroke-linejoin="miter"/>
<polyline points="226.6,226.2 226.6,356.0" stroke="#000" stroke-width="2.0" fill="none" stroke-linejoin="miter"/>
<polyline points="412.1,288.3 412.1,352.4 532.2,352.4" stroke="#000" stroke-width="2.2" fill="none" stroke-linejoin="miter"/>
<polyline points="299.4,351.0 299.4,402.2 418.7,402.2" stroke="#000" stroke-width="2.1" fill="none" stroke-linejoin="miter"/>
<polyline points="143.5,433.0 143.5,474.5 316.0,474.5" stroke="#000" stroke-width="2.1" fill="none" stroke-linejoin="miter"/>
<text x="16" y="213.5" textLength="101" lengthAdjust="spacingAndGlyphs" font-family="Liberation Sans" font-weight="bold" font-size="21" fill="#111" stroke="#fff" stroke-width="0.3">Conductor</text>
<text x="156" y="213.5" textLength="168.5" lengthAdjust="spacingAndGlyphs" font-family="Liberation Sans" font-weight="bold" font-size="21" fill="#111" stroke="#fff" stroke-width="0.3">Aluminum Shield</text>
<text x="540.3" y="357.7" textLength="40.8" lengthAdjust="spacingAndGlyphs" font-family="Liberation Sans" font-weight="bold" font-size="21" fill="#111" stroke="#fff" stroke-width="0.3">PVC</text>
<text x="425.3" y="409.2" textLength="113.5" lengthAdjust="spacingAndGlyphs" font-family="Liberation Sans" font-weight="bold" font-size="21" fill="#111" stroke="#fff" stroke-width="0.3">Braid shield</text>
<text x="329.3" y="481.5" textLength="96.5" lengthAdjust="spacingAndGlyphs" font-family="Liberation Sans" font-weight="bold" font-size="21" fill="#111" stroke="#fff" stroke-width="0.3">Insulation</text>
</svg>
</body></html>
